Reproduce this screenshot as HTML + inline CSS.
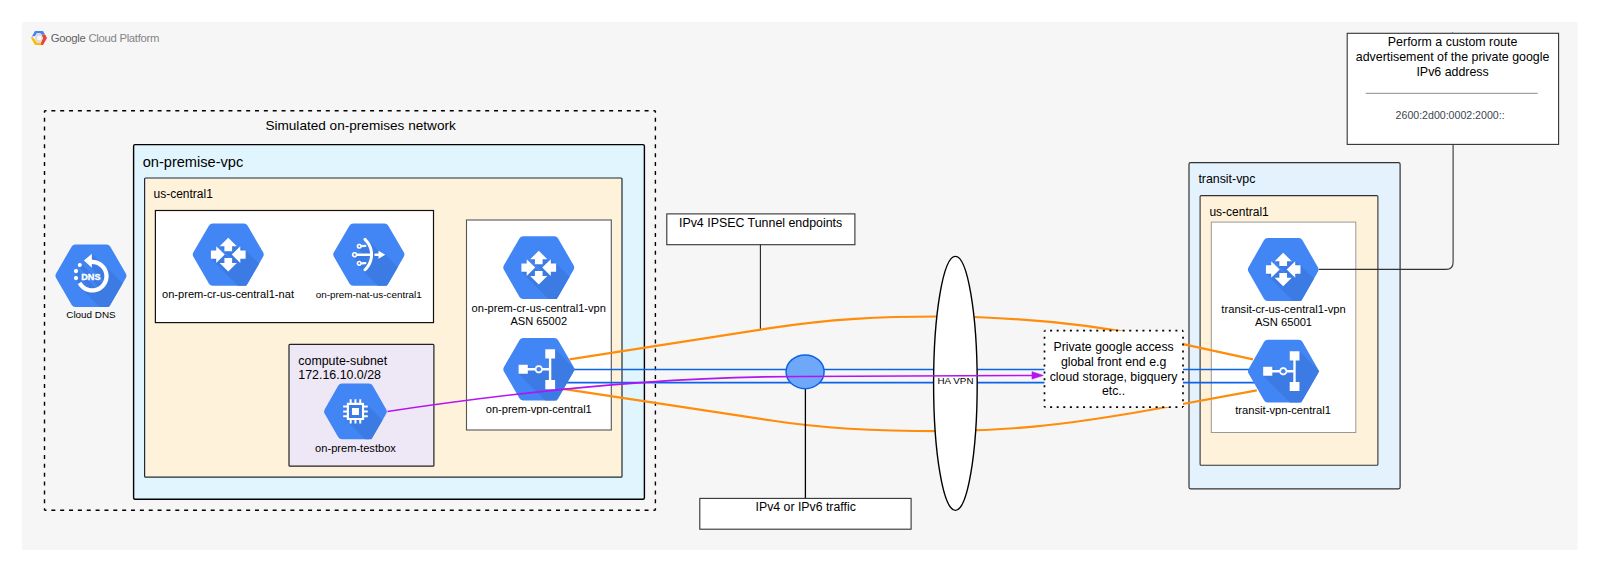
<!DOCTYPE html>
<html><head><meta charset="utf-8"><style>
html,body{margin:0;padding:0;background:#fff;}
svg{display:block;}
text{font-family:"Liberation Sans", sans-serif;}
</style></head><body>
<svg width="1600" height="573" viewBox="0 0 1600 573">
<rect x="0" y="0" width="1600" height="573" fill="#ffffff"/>
<rect x="22" y="22" width="1555.5" height="528" fill="#f6f6f6"/>
<path d="M31,38 L35,31 L43,31 L45,34.5 L41.5,34.5 L40,33 L37,33 L35.3,36 L31.8,36.6 Z" fill="#4285f4"/>
<path d="M43,31 L47,38 L43,45 L39.5,45 L41.5,41.5 L43,38 L41.5,34.5 L45,34.5 Z" fill="#ea4335"/>
<path d="M31,38 L35,45 L41,45 L41.5,41.5 L40,43 L37,43 L35.3,40 L31.8,36.6 Z" fill="#fbbc05"/>
<path d="M35.3,36 L37,33 L40,33 L41.5,35.5 L43,38 L41.5,41 L40,43 L37,43 L35.3,40 Z" fill="#dcdcdc"/>
<circle cx="39.2" cy="38" r="2.3" fill="#f6f6f6"/>
<text x="50.8" y="41.8" font-size="11.3" letter-spacing="-0.28"><tspan fill="#636363">Google </tspan><tspan fill="#858585">Cloud Platform</tspan></text>
<line x1="44.5" y1="110.8" x2="655.4" y2="110.8" stroke="#000" stroke-width="1.4" stroke-dasharray="4 4.854" stroke-dashoffset="2.0"/><line x1="655.4" y1="110.8" x2="655.4" y2="510.2" stroke="#000" stroke-width="1.4" stroke-dasharray="4 4.876" stroke-dashoffset="2.0"/><line x1="655.4" y1="510.2" x2="44.5" y2="510.2" stroke="#000" stroke-width="1.4" stroke-dasharray="4 4.854" stroke-dashoffset="2.0"/><line x1="44.5" y1="510.2" x2="44.5" y2="110.8" stroke="#000" stroke-width="1.4" stroke-dasharray="4 4.876" stroke-dashoffset="2.0"/>
<text x="265.4" y="130.2" font-size="13.6" text-anchor="start" fill="#000" font-weight="normal" >Simulated on-premises network</text>
<rect x="133.6" y="144.6" width="510.8" height="354.6" rx="1.5" fill="#e1f5fe" stroke="#000" stroke-width="1.4"/>
<text x="142.7" y="166.8" font-size="14.6" text-anchor="start" fill="#000" font-weight="normal" >on-premise-vpc</text>
<rect x="144.6" y="178" width="477.4" height="299.2" rx="1" fill="#fff2db" stroke="#1f2a36" stroke-width="1.2"/>
<text x="153.5" y="198.1" font-size="12.0" text-anchor="start" fill="#000" font-weight="normal" >us-central1</text>
<rect x="155.4" y="210.5" width="278.1" height="112.1" fill="#fff" stroke="#111" stroke-width="1.2"/>
<rect x="289" y="344.3" width="144.9" height="121.9" rx="1" fill="#ede7f6" stroke="#222" stroke-width="1.2"/>
<text x="298.3" y="364.8" font-size="12.4" text-anchor="start" fill="#000" font-weight="normal" >compute-subnet</text>
<text x="298.3" y="379.0" font-size="12.4" text-anchor="start" fill="#000" font-weight="normal" >172.16.10.0/28</text>
<rect x="466.5" y="220" width="144.8" height="210" fill="#fff" stroke="#555" stroke-width="1.1"/>
<rect x="1189" y="162.7" width="211.1" height="326.1" rx="1.5" fill="#e3f2fd" stroke="#333" stroke-width="1.2"/>
<text x="1198.4" y="183" font-size="12.36" text-anchor="start" fill="#000" font-weight="normal" >transit-vpc</text>
<rect x="1200.1" y="195.6" width="177.8" height="269.7" rx="1" fill="#fff2db" stroke="#333" stroke-width="1.1"/>
<text x="1209.4" y="216" font-size="12.0" text-anchor="start" fill="#000" font-weight="normal" >us-central1</text>
<rect x="1211.3" y="222.1" width="144.5" height="210.4" fill="#fff" stroke="#999" stroke-width="1"/>
<rect x="1347.2" y="33.3" width="211.4" height="111.1" fill="#fff" stroke="#333" stroke-width="1.1"/>
<text x="1452.6" y="46.2" font-size="12.4" text-anchor="middle" fill="#000" font-weight="normal" >Perform a custom route</text>
<text x="1452.6" y="61" font-size="12.4" text-anchor="middle" fill="#000" font-weight="normal" >advertisement of the private google</text>
<text x="1452.6" y="75.8" font-size="12.4" text-anchor="middle" fill="#000" font-weight="normal" >IPv6 address</text>
<line x1="1365.7" y1="93.3" x2="1537.7" y2="93.3" stroke="#8a8a8a" stroke-width="1"/>
<text x="1450.1" y="119.3" font-size="10.6" text-anchor="middle" fill="#3c4650" font-weight="normal" >2600:2d00:0002:2000::</text>
<rect x="666.8" y="213.9" width="188.1" height="30.8" fill="#fff" stroke="#333" stroke-width="1.1"/>
<text x="760.6" y="227.4" font-size="12.4" text-anchor="middle" fill="#000" font-weight="normal" >IPv4 IPSEC Tunnel endpoints</text>
<line x1="760.4" y1="244.7" x2="760.4" y2="329.6" stroke="#222" stroke-width="1.1"/>
<g transform="translate(90.95,275.65) scale(1.0000)"><path d="M-34.85,2.25 Q-36.15,0.00 -34.85,-2.25 L-19.38,-29.00 Q-18.07,-31.25 -15.47,-31.25 L15.47,-31.25 Q18.07,-31.25 19.38,-29.00 L34.85,-2.25 Q36.15,0.00 34.85,2.25 L19.38,29.00 Q18.07,31.25 15.47,31.25 L-15.47,31.25 Q-18.07,31.25 -19.38,29.00 Z" fill="#4285f4"/><path d="M-12.92,-11.60 L-12.92,-11.60 L-12.92,-11.60 L-12.92,-11.60 L-13.01,-11.42 L-13.01,-11.42 L-13.01,-11.42 L-13.07,-11.23 L-13.07,-11.23 L-13.07,-11.23 L-13.07,-11.23 L-13.07,-11.23 L-13.07,-11.23 L-13.07,-11.23 L-13.12,-11.04 L-13.12,-11.04 L-13.12,-11.04 L-13.12,-11.04 L-13.15,-10.85 L-13.15,-10.85 L-13.15,-10.85 L-13.15,-10.85 L-13.16,-10.65 L-13.16,-10.65 L-13.16,-10.65 L-13.15,-10.45 L-13.15,-10.45 L-13.15,-10.45 L-13.15,-10.45 L-13.12,-10.26 L-13.12,-10.26 L-13.12,-10.26 L-13.12,-10.26 L-13.07,-10.07 L-13.07,-10.07 L-13.07,-10.07 L-13.07,-10.07 L-13.07,-10.07 L-13.07,-10.07 L-13.07,-10.07 L-13.01,-9.88 L-13.01,-9.88 L-13.01,-9.88 L-12.92,-9.70 L-12.92,-9.70 L-12.92,-9.70 L-12.92,-9.70 L-12.82,-9.53 L-12.82,-9.53 L-12.82,-9.53 L-12.82,-9.53 L-12.70,-9.38 L-12.70,-9.38 L-12.70,-9.38 L-12.70,-9.38 L-12.70,-9.37 L-12.70,-9.37 L-12.70,-9.37 L-12.57,-9.23 L-12.57,-9.23 L7.53,10.88 L7.29,11.02 L6.93,11.22 L6.55,11.42 L6.17,11.59 L5.78,11.76 L5.38,11.91 L4.99,12.05 L4.71,12.13 L-13.46,-6.04 L-13.46,-6.04 L-13.61,-6.18 L-13.61,-6.18 L-13.61,-6.18 L-13.61,-6.18 L-13.78,-6.30 L-13.78,-6.30 L-13.78,-6.30 L-13.78,-6.30 L-13.95,-6.41 L-13.95,-6.41 L-13.96,-6.41 L-13.96,-6.41 L-14.14,-6.50 L-14.14,-6.50 L-14.14,-6.50 L-14.14,-6.50 L-14.34,-6.57 L-14.34,-6.57 L-14.34,-6.57 L-14.34,-6.57 L-14.54,-6.62 L-14.54,-6.62 L-14.54,-6.62 L-14.54,-6.62 L-14.74,-6.65 L-14.74,-6.65 L-14.74,-6.65 L-14.74,-6.65 L-14.95,-6.66 L-14.95,-6.66 L-14.95,-6.66 L-14.95,-6.66 L-15.16,-6.65 L-15.16,-6.65 L-15.16,-6.65 L-15.36,-6.62 L-15.36,-6.62 L-15.36,-6.62 L-15.56,-6.57 L-15.56,-6.57 L-15.56,-6.57 L-15.56,-6.57 L-15.56,-6.57 L-15.56,-6.57 L-15.56,-6.57 L-15.76,-6.50 L-15.76,-6.50 L-15.76,-6.50 L-15.76,-6.50 L-15.94,-6.41 L-15.94,-6.41 L-15.95,-6.41 L-16.12,-6.30 L-16.12,-6.30 L-16.12,-6.30 L-16.12,-6.30 L-16.29,-6.18 L-16.29,-6.18 L-16.29,-6.18 L-16.44,-6.04 L-16.44,-6.04 L-16.44,-6.04 L-16.44,-6.04 L-16.58,-5.89 L-16.58,-5.89 L-16.58,-5.89 L-16.58,-5.89 L-16.70,-5.72 L-16.70,-5.72 L-16.70,-5.72 L-16.70,-5.72 L-16.81,-5.55 L-16.81,-5.54 L-16.81,-5.54 L-16.81,-5.54 L-16.90,-5.36 L-16.90,-5.36 L-16.90,-5.36 L-16.90,-5.36 L-16.97,-5.16 L-16.97,-5.16 L-16.97,-5.16 L-16.97,-5.16 L-17.02,-4.96 L-17.02,-4.96 L-17.02,-4.96 L-17.02,-4.96 L-17.05,-4.76 L-17.05,-4.76 L-17.05,-4.76 L-17.05,-4.76 L-17.06,-4.55 L-17.06,-4.55 L-17.06,-4.55 L-17.06,-4.55 L-17.05,-4.34 L-17.05,-4.34 L-17.05,-4.34 L-17.05,-4.34 L-17.02,-4.14 L-17.02,-4.14 L-17.02,-4.14 L-17.02,-4.14 L-16.97,-3.94 L-16.97,-3.94 L-16.97,-3.94 L-16.97,-3.94 L-16.97,-3.94 L-16.97,-3.94 L-16.97,-3.94 L-16.90,-3.74 L-16.90,-3.74 L-16.90,-3.74 L-16.81,-3.56 L-16.81,-3.56 L-16.81,-3.55 L-16.81,-3.55 L-16.70,-3.38 L-16.70,-3.38 L-16.70,-3.38 L-16.70,-3.38 L-16.70,-3.38 L-16.70,-3.38 L-16.70,-3.38 L-16.58,-3.21 L-16.58,-3.21 L-16.58,-3.21 L-16.44,-3.06 L-16.44,-3.06 L-0.95,12.44 L-1.26,12.38 L-1.67,12.28 L-2.08,12.17 L-2.32,12.10 L-13.46,0.96 L-13.46,0.96 L-13.61,0.82 L-13.61,0.82 L-13.61,0.82 L-13.61,0.82 L-13.78,0.70 L-13.78,0.70 L-13.78,0.70 L-13.78,0.70 L-13.95,0.59 L-13.95,0.59 L-13.96,0.59 L-13.96,0.59 L-14.14,0.50 L-14.14,0.50 L-14.14,0.50 L-14.34,0.43 L-14.34,0.43 L-14.34,0.43 L-14.34,0.43 L-14.34,0.43 L-14.34,0.43 L-14.34,0.43 L-14.54,0.38 L-14.54,0.38 L-14.54,0.38 L-14.54,0.38 L-14.74,0.35 L-14.74,0.35 L-14.74,0.35 L-14.74,0.35 L-14.95,0.34 L-14.95,0.34 L-14.95,0.34 L-14.95,0.34 L-15.16,0.35 L-15.16,0.35 L-15.16,0.35 L-15.36,0.38 L-15.36,0.38 L-15.36,0.38 L-15.36,0.38 L-15.56,0.43 L-15.56,0.43 L-15.56,0.43 L-15.56,0.43 L-15.56,0.43 L-15.56,0.43 L-15.56,0.43 L-15.76,0.50 L-15.76,0.50 L-15.76,0.50 L-15.76,0.50 L-15.94,0.59 L-15.94,0.59 L-15.95,0.59 L-16.12,0.70 L-16.12,0.70 L-16.12,0.70 L-16.12,0.70 L-16.29,0.82 L-16.29,0.82 L-16.29,0.82 L-16.44,0.96 L-16.44,0.96 L-16.44,0.96 L-16.44,0.96 L-16.58,1.11 L-16.58,1.11 L-16.58,1.11 L-16.58,1.11 L-16.70,1.28 L-16.70,1.28 L-16.70,1.28 L-16.70,1.28 L-16.81,1.45 L-16.81,1.46 L-16.81,1.46 L-16.81,1.46 L-16.90,1.64 L-16.90,1.64 L-16.90,1.64 L-16.90,1.64 L-16.97,1.84 L-16.97,1.84 L-16.97,1.84 L-16.97,1.84 L-17.02,2.04 L-17.02,2.04 L-17.02,2.04 L-17.02,2.04 L-17.05,2.24 L-17.05,2.24 L-17.05,2.24 L-17.05,2.24 L-17.06,2.45 L-17.06,2.45 L-17.06,2.45 L-17.06,2.45 L-17.05,2.66 L-17.05,2.66 L-17.05,2.66 L-17.05,2.66 L-17.02,2.86 L-17.02,2.86 L-17.02,2.86 L-17.02,2.86 L-16.97,3.06 L-16.97,3.06 L-16.97,3.06 L-16.97,3.06 L-16.97,3.06 L-16.97,3.06 L-16.97,3.06 L-16.90,3.26 L-16.90,3.26 L-16.90,3.26 L-16.81,3.44 L-16.81,3.44 L-16.81,3.45 L-16.81,3.45 L-16.70,3.62 L-16.70,3.62 L-16.70,3.62 L-16.70,3.62 L-16.70,3.62 L-16.70,3.62 L-16.70,3.62 L-16.58,3.79 L-16.58,3.79 L-16.58,3.79 L-16.44,3.94 L-16.44,3.94 L-12.51,7.88 L-13.22,8.27 L-13.22,8.27 L-13.22,8.27 L-13.22,8.27 L-13.22,8.27 L-13.22,8.27 L-13.22,8.27 L-13.22,8.27 L-13.22,8.27 L-13.22,8.28 L-13.22,8.28 L-13.22,8.28 L-13.22,8.28 L-13.22,8.28 L-13.22,8.28 L-13.22,8.28 L-13.22,8.28 L-13.22,8.28 L-13.22,8.28 L-13.22,8.28 L-13.22,8.28 L-13.22,8.28 L-13.22,8.28 L-13.22,8.28 L-13.22,8.28 L-13.22,8.28 L-13.22,8.28 L-13.22,8.28 L-13.22,8.28 L-13.22,8.28 L-13.22,8.28 L-13.22,8.28 L-13.22,8.28 L-13.22,8.28 L-13.22,8.28 L-13.22,8.28 L-13.22,8.28 L-13.22,8.28 L-13.22,8.28 L-13.22,8.28 L-13.22,8.28 L-13.22,8.28 L-13.22,8.28 L-13.22,8.28 L-13.22,8.28 L-13.22,8.28 L-13.22,8.28 L-13.22,8.28 L-13.22,8.28 L-13.22,8.28 L-13.22,8.28 L-13.22,8.28 L-13.22,8.28 L-13.22,8.29 L-13.22,8.29 L-13.22,8.29 L-13.22,8.29 L-13.22,8.29 L-13.22,8.29 L-13.22,8.29 L-13.22,8.29 L-13.22,8.29 L-13.22,8.29 L-13.22,8.29 L-12.98,8.72 L-12.98,8.72 L-12.98,8.72 L-12.94,8.79 L-12.94,8.79 L-12.94,8.79 L-12.69,9.21 L-12.69,9.21 L-12.69,9.21 L-12.65,9.28 L-12.65,9.28 L-12.65,9.28 L-12.38,9.69 L-12.38,9.69 L-12.38,9.70 L-12.33,9.76 L-12.33,9.76 L-12.33,9.76 L-12.05,10.16 L-12.05,10.16 L-12.05,10.17 L-12.00,10.23 L-12.00,10.23 L-12.00,10.23 L-11.70,10.62 L-11.70,10.62 L-11.70,10.62 L-11.66,10.68 L-11.66,10.68 L-11.66,10.68 L-11.34,11.07 L-11.34,11.07 L-11.34,11.07 L-11.30,11.13 L-11.30,11.13 L-11.30,11.13 L-10.97,11.50 L-10.97,11.50 L-10.97,11.50 L-10.92,11.56 L-10.92,11.56 L-10.92,11.56 L-10.58,11.92 L-10.58,11.92 L-10.58,11.92 L-10.53,11.98 L-10.53,11.98 L-10.18,12.33 L8.75,31.25 L18.07,31.25 L31.66,7.76 L13.03,-10.88 L13.03,-10.88 L12.68,-11.23 L12.68,-11.23 L12.62,-11.28 L12.62,-11.28 L12.62,-11.28 L12.26,-11.62 L12.26,-11.62 L12.26,-11.62 L12.20,-11.67 L12.20,-11.67 L12.20,-11.67 L11.83,-12.00 L11.83,-12.00 L11.83,-12.00 L11.77,-12.04 L11.77,-12.04 L11.77,-12.04 L11.38,-12.36 L11.38,-12.36 L11.38,-12.36 L11.32,-12.40 L11.32,-12.40 L11.32,-12.40 L10.93,-12.70 L10.93,-12.70 L10.93,-12.70 L10.87,-12.75 L10.86,-12.75 L10.86,-12.75 L10.46,-13.03 L10.46,-13.03 L10.46,-13.03 L10.40,-13.08 L10.39,-13.08 L10.39,-13.08 L9.98,-13.35 L9.98,-13.35 L9.98,-13.35 L9.91,-13.39 L9.91,-13.39 L9.91,-13.39 L9.49,-13.64 L9.49,-13.64 L9.49,-13.64 L9.42,-13.68 L9.42,-13.68 L9.42,-13.68 L8.99,-13.92 L8.99,-13.92 L8.99,-13.92 L8.92,-13.96 L8.92,-13.96 L8.92,-13.96 L8.79,-14.02 L0.91,-21.91 L0.91,-21.91 L0.91,-21.91 L0.91,-21.91 L0.91,-21.91 L0.91,-21.91 L0.91,-21.91 L0.91,-21.91 L0.91,-21.91 L0.90,-21.91 L0.90,-21.91 L0.90,-21.91 L0.90,-21.91 L0.90,-21.91 L0.90,-21.91 L0.90,-21.91 L0.90,-21.91 L0.90,-21.91 L0.90,-21.91 L0.90,-21.91 L0.90,-21.91 L0.90,-21.91 L0.90,-21.91 L0.90,-21.91 L0.90,-21.91 L0.90,-21.91 L0.90,-21.91 L0.90,-21.91 L0.90,-21.91 L0.90,-21.91 L0.90,-21.91 L0.90,-21.91 L0.90,-21.91 L0.90,-21.91 L0.90,-21.91 L0.90,-21.91 L0.90,-21.91 L0.90,-21.91 L0.90,-21.91 L0.90,-21.91 L0.90,-21.91 L0.90,-21.91 L0.90,-21.91 L0.90,-21.91 L0.90,-21.91 L0.90,-21.91 L0.90,-21.91 L0.90,-21.91 L0.90,-21.91 L0.90,-21.91 L0.90,-21.91 L0.90,-21.91 L0.89,-21.91 L0.89,-21.91 L0.89,-21.91 L0.89,-21.91 L0.89,-21.91 L0.89,-21.91 L0.89,-21.91 L0.89,-21.91 L-7.06,-15.16 L-7.06,-15.16 L-7.06,-15.16 L-7.06,-15.16 L-7.06,-15.16 L-7.06,-15.16 L-7.06,-15.16 L-7.06,-15.16 L-7.06,-15.16 L-7.06,-15.16 L-7.06,-15.16 L-7.06,-15.16 L-7.06,-15.16 L-7.06,-15.16 L-7.06,-15.15 L-7.06,-15.15 L-7.06,-15.15 L-7.06,-15.15 L-7.06,-15.15 L-7.06,-15.15 L-7.06,-15.15 L-7.06,-15.15 L-7.06,-15.15 L-7.06,-15.15 L-7.06,-15.15 L-7.06,-15.15 L-7.06,-15.15 L-7.06,-15.15 L-7.06,-15.15 L-7.06,-15.15 L-7.06,-15.15 L-7.06,-15.15 L-7.06,-15.15 L-7.06,-15.15 L-7.06,-15.15 L-7.06,-15.15 L-7.06,-15.15 L-7.06,-15.15 L-7.06,-15.15 L-7.06,-15.15 L-7.06,-15.15 L-7.06,-15.15 L-7.06,-15.15 L-7.06,-15.15 L-7.06,-15.15 L-7.06,-15.15 L-7.06,-15.15 L-7.06,-15.15 L-7.06,-15.15 L-7.06,-15.15 L-7.06,-15.15 L-7.06,-15.15 L-7.06,-15.15 L-7.06,-15.15 L-7.06,-15.15 L-7.06,-15.15 L-7.06,-15.15 L-7.06,-15.14 L-7.06,-15.14 L-7.06,-15.14 L-7.06,-15.14 L-7.06,-15.14 L-7.06,-15.14 L-7.06,-15.14 L-7.06,-15.14 L-7.06,-15.14 L12.65,4.57 L12.61,4.68 L12.46,5.08 L12.29,5.47 L12.12,5.85 L11.92,6.23 L11.72,6.59 L11.50,6.96 L11.27,7.31 L11.03,7.66 L10.78,7.99 L10.58,8.24 L-9.73,-12.07 L-9.73,-12.07 L-9.87,-12.20 L-9.87,-12.20 L-9.87,-12.20 L-9.88,-12.20 L-9.88,-12.20 L-9.88,-12.20 L-9.88,-12.20 L-10.03,-12.32 L-10.03,-12.32 L-10.03,-12.32 L-10.03,-12.32 L-10.20,-12.42 L-10.20,-12.42 L-10.20,-12.42 L-10.20,-12.42 L-10.38,-12.51 L-10.38,-12.51 L-10.38,-12.51 L-10.57,-12.57 L-10.57,-12.57 L-10.57,-12.57 L-10.57,-12.57 L-10.57,-12.57 L-10.57,-12.57 L-10.57,-12.57 L-10.76,-12.62 L-10.76,-12.62 L-10.76,-12.62 L-10.76,-12.62 L-10.95,-12.65 L-10.95,-12.65 L-10.95,-12.65 L-10.95,-12.65 L-11.15,-12.66 L-11.15,-12.66 L-11.15,-12.66 L-11.35,-12.65 L-11.35,-12.65 L-11.35,-12.65 L-11.35,-12.65 L-11.54,-12.62 L-11.54,-12.62 L-11.54,-12.62 L-11.54,-12.62 L-11.73,-12.57 L-11.73,-12.57 L-11.73,-12.57 L-11.73,-12.57 L-11.73,-12.57 L-11.73,-12.57 L-11.73,-12.57 L-11.92,-12.51 L-11.92,-12.51 L-11.92,-12.51 L-12.10,-12.42 L-12.10,-12.42 L-12.10,-12.42 L-12.10,-12.42 L-12.27,-12.32 L-12.27,-12.32 L-12.27,-12.32 L-12.27,-12.32 L-12.42,-12.20 L-12.42,-12.20 L-12.42,-12.20 L-12.43,-12.20 L-12.43,-12.20 L-12.43,-12.20 L-12.43,-12.20 L-12.57,-12.07 L-12.57,-12.07 L-12.57,-12.07 L-12.70,-11.93 L-12.70,-11.93 L-12.70,-11.93 L-12.70,-11.93 L-12.70,-11.92 L-12.70,-11.92 L-12.70,-11.92 L-12.82,-11.77 L-12.82,-11.77 L-12.82,-11.77 L-12.82,-11.77 L-12.92,-11.60Z" fill="#3c7be3"/><path d="M0.90,-11.54 L1.25,-11.55 L1.67,-11.54 L2.09,-11.52 L2.51,-11.48 L2.93,-11.43 L3.35,-11.37 L3.77,-11.29 L4.18,-11.19 L4.59,-11.08 L4.99,-10.96 L5.39,-10.82 L5.78,-10.67 L6.17,-10.50 L6.55,-10.33 L6.93,-10.13 L7.30,-9.93 L7.66,-9.71 L8.02,-9.48 L8.36,-9.24 L8.70,-8.98 L9.03,-8.72 L9.35,-8.44 L9.66,-8.15 L9.95,-7.86 L10.24,-7.55 L10.52,-7.23 L10.78,-6.90 L11.04,-6.56 L11.28,-6.22 L11.51,-5.86 L11.73,-5.50 L11.93,-5.13 L12.13,-4.75 L12.30,-4.37 L12.47,-3.98 L12.62,-3.59 L12.76,-3.19 L12.88,-2.79 L12.99,-2.38 L13.09,-1.97 L13.17,-1.55 L13.23,-1.13 L13.28,-0.71 L13.32,-0.29 L13.34,0.13 L13.35,0.55 L13.34,0.97 L13.32,1.39 L13.28,1.81 L13.23,2.23 L13.17,2.65 L13.09,3.07 L12.99,3.48 L12.88,3.89 L12.76,4.29 L12.62,4.69 L12.47,5.08 L12.30,5.47 L12.13,5.85 L11.93,6.23 L11.73,6.60 L11.51,6.96 L11.28,7.32 L11.04,7.66 L10.78,8.00 L10.52,8.33 L10.24,8.65 L9.95,8.96 L9.66,9.25 L9.35,9.54 L9.03,9.82 L8.70,10.08 L8.36,10.34 L8.02,10.58 L7.66,10.81 L7.30,11.03 L6.93,11.23 L6.55,11.43 L6.17,11.60 L5.78,11.77 L5.39,11.92 L4.99,12.06 L4.59,12.18 L4.18,12.29 L3.77,12.39 L3.35,12.47 L2.93,12.53 L2.51,12.58 L2.09,12.62 L1.67,12.64 L1.25,12.65 L0.83,12.64 L0.41,12.62 L-0.01,12.58 L-0.43,12.53 L-0.85,12.47 L-1.27,12.39 L-1.68,12.29 L-2.09,12.18 L-2.49,12.06 L-2.89,11.92 L-3.28,11.77 L-3.67,11.60 L-4.05,11.43 L-4.43,11.23 L-4.80,11.03 L-5.16,10.81 L-5.52,10.58 L-5.86,10.34 L-6.20,10.08 L-6.53,9.82 L-6.85,9.54 L-7.16,9.25 L-7.45,8.96 L-7.74,8.65 L-8.02,8.33 L-8.28,8.00 L-8.54,7.66 L-8.78,7.32 L-9.01,6.96 L-9.23,6.60 L-9.45,6.20 L-13.21,8.28 L-12.97,8.72 L-12.93,8.78 L-12.68,9.21 L-12.64,9.27 L-12.37,9.69 L-12.32,9.75 L-12.04,10.16 L-12.00,10.22 L-11.70,10.62 L-11.65,10.68 L-11.34,11.06 L-11.29,11.12 L-10.96,11.50 L-10.91,11.55 L-10.57,11.92 L-10.52,11.97 L-10.17,12.32 L-10.12,12.37 L-9.75,12.71 L-9.70,12.76 L-9.32,13.09 L-9.26,13.14 L-8.88,13.45 L-8.82,13.50 L-8.42,13.80 L-8.36,13.84 L-7.95,14.12 L-7.89,14.17 L-7.47,14.44 L-7.41,14.48 L-6.98,14.73 L-6.92,14.77 L-6.48,15.01 L-6.42,15.05 L-5.97,15.27 L-5.91,15.31 L-5.45,15.52 L-5.39,15.55 L-4.93,15.74 L-4.86,15.77 L-4.39,15.95 L-4.32,15.97 L-3.85,16.14 L-3.78,16.16 L-3.31,16.30 L-3.23,16.32 L-2.75,16.45 L-2.68,16.47 L-2.20,16.58 L-2.12,16.60 L-1.63,16.69 L-1.56,16.71 L-1.07,16.78 L-1.00,16.80 L-0.50,16.86 L-0.43,16.86 L0.07,16.91 L0.14,16.91 L0.64,16.94 L0.72,16.94 L1.21,16.95 L1.29,16.95 L1.78,16.94 L1.86,16.94 L2.36,16.91 L2.43,16.91 L2.93,16.86 L3.00,16.86 L3.50,16.80 L3.57,16.78 L4.06,16.71 L4.13,16.69 L4.62,16.60 L4.70,16.58 L5.18,16.47 L5.25,16.45 L5.73,16.32 L5.81,16.30 L6.28,16.16 L6.35,16.14 L6.82,15.97 L6.89,15.95 L7.36,15.77 L7.43,15.74 L7.89,15.55 L7.95,15.52 L8.41,15.31 L8.47,15.27 L8.92,15.05 L8.98,15.01 L9.42,14.77 L9.48,14.73 L9.91,14.48 L9.97,14.44 L10.39,14.17 L10.45,14.12 L10.86,13.84 L10.92,13.80 L11.32,13.50 L11.38,13.45 L11.76,13.14 L11.82,13.09 L12.20,12.76 L12.25,12.71 L12.62,12.37 L12.67,12.32 L13.02,11.97 L13.07,11.92 L13.41,11.55 L13.46,11.50 L13.79,11.12 L13.84,11.06 L14.15,10.68 L14.20,10.62 L14.50,10.22 L14.54,10.16 L14.82,9.75 L14.87,9.69 L15.14,9.27 L15.18,9.21 L15.43,8.78 L15.47,8.72 L15.71,8.28 L15.75,8.22 L15.97,7.77 L16.01,7.71 L16.22,7.25 L16.25,7.19 L16.44,6.73 L16.47,6.66 L16.65,6.19 L16.67,6.12 L16.84,5.65 L16.86,5.58 L17.00,5.11 L17.02,5.03 L17.15,4.55 L17.17,4.48 L17.28,4.00 L17.30,3.92 L17.39,3.43 L17.41,3.36 L17.48,2.87 L17.50,2.80 L17.56,2.30 L17.56,2.23 L17.61,1.73 L17.61,1.66 L17.64,1.16 L17.64,1.08 L17.65,0.59 L17.65,0.51 L17.64,0.02 L17.64,-0.06 L17.61,-0.56 L17.61,-0.63 L17.56,-1.13 L17.56,-1.20 L17.50,-1.70 L17.48,-1.77 L17.41,-2.26 L17.39,-2.33 L17.30,-2.82 L17.28,-2.90 L17.17,-3.38 L17.15,-3.45 L17.02,-3.93 L17.00,-4.01 L16.86,-4.48 L16.84,-4.55 L16.67,-5.02 L16.65,-5.09 L16.47,-5.56 L16.44,-5.63 L16.25,-6.09 L16.22,-6.15 L16.01,-6.61 L15.97,-6.67 L15.75,-7.12 L15.71,-7.18 L15.47,-7.62 L15.43,-7.68 L15.18,-8.11 L15.14,-8.17 L14.87,-8.59 L14.82,-8.65 L14.54,-9.06 L14.50,-9.12 L14.20,-9.52 L14.15,-9.58 L13.84,-9.96 L13.79,-10.02 L13.46,-10.40 L13.41,-10.45 L13.07,-10.82 L13.02,-10.87 L12.67,-11.22 L12.62,-11.27 L12.25,-11.61 L12.20,-11.66 L11.82,-11.99 L11.76,-12.04 L11.38,-12.35 L11.32,-12.40 L10.92,-12.70 L10.86,-12.74 L10.45,-13.02 L10.39,-13.07 L9.97,-13.34 L9.91,-13.38 L9.48,-13.63 L9.42,-13.67 L8.98,-13.91 L8.92,-13.95 L8.47,-14.17 L8.41,-14.21 L7.95,-14.42 L7.89,-14.45 L7.43,-14.64 L7.36,-14.67 L6.89,-14.85 L6.82,-14.87 L6.35,-15.04 L6.28,-15.06 L5.81,-15.20 L5.73,-15.22 L5.25,-15.35 L5.18,-15.37 L4.70,-15.48 L4.62,-15.50 L4.13,-15.59 L4.06,-15.61 L3.57,-15.68 L3.50,-15.70 L3.00,-15.76 L2.93,-15.76 L2.43,-15.81 L2.36,-15.81 L1.86,-15.84 L1.78,-15.84 L1.29,-15.85 L1.21,-15.85 L0.90,-15.84 L0.90,-21.90 L-7.05,-15.15 L0.90,-8.00 L0.90,-11.54Z M-9.19,-11.04 L-9.24,-11.23 L-9.30,-11.42 L-9.39,-11.59 L-9.49,-11.76 L-9.60,-11.92 L-9.74,-12.06 L-9.88,-12.20 L-10.04,-12.31 L-10.21,-12.41 L-10.38,-12.50 L-10.57,-12.56 L-10.76,-12.61 L-10.95,-12.64 L-11.15,-12.65 L-11.35,-12.64 L-11.54,-12.61 L-11.73,-12.56 L-11.92,-12.50 L-12.09,-12.41 L-12.26,-12.31 L-12.42,-12.20 L-12.56,-12.06 L-12.70,-11.92 L-12.81,-11.76 L-12.91,-11.59 L-13.00,-11.42 L-13.06,-11.23 L-13.11,-11.04 L-13.14,-10.85 L-13.15,-10.65 L-13.14,-10.45 L-13.11,-10.26 L-13.06,-10.07 L-13.00,-9.88 L-12.91,-9.71 L-12.81,-9.54 L-12.70,-9.38 L-12.56,-9.24 L-12.42,-9.10 L-12.26,-8.99 L-12.09,-8.89 L-11.92,-8.80 L-11.73,-8.74 L-11.54,-8.69 L-11.35,-8.66 L-11.15,-8.65 L-10.95,-8.66 L-10.76,-8.69 L-10.57,-8.74 L-10.38,-8.80 L-10.21,-8.89 L-10.04,-8.99 L-9.88,-9.10 L-9.74,-9.24 L-9.60,-9.38 L-9.49,-9.54 L-9.39,-9.71 L-9.30,-9.88 L-9.24,-10.07 L-9.19,-10.26 L-9.16,-10.45 L-9.15,-10.65 L-9.16,-10.85 L-9.19,-11.04Z M-12.89,-4.96 L-12.94,-5.16 L-13.01,-5.35 L-13.10,-5.54 L-13.20,-5.72 L-13.33,-5.88 L-13.47,-6.03 L-13.62,-6.17 L-13.78,-6.30 L-13.96,-6.40 L-14.15,-6.49 L-14.34,-6.56 L-14.54,-6.61 L-14.74,-6.64 L-14.95,-6.65 L-15.16,-6.64 L-15.36,-6.61 L-15.56,-6.56 L-15.75,-6.49 L-15.94,-6.40 L-16.12,-6.30 L-16.28,-6.17 L-16.43,-6.03 L-16.57,-5.88 L-16.70,-5.72 L-16.80,-5.54 L-16.89,-5.35 L-16.96,-5.16 L-17.01,-4.96 L-17.04,-4.76 L-17.05,-4.55 L-17.04,-4.34 L-17.01,-4.14 L-16.96,-3.94 L-16.89,-3.75 L-16.80,-3.56 L-16.70,-3.38 L-16.57,-3.22 L-16.43,-3.07 L-16.28,-2.93 L-16.12,-2.80 L-15.94,-2.70 L-15.75,-2.61 L-15.56,-2.54 L-15.36,-2.49 L-15.16,-2.46 L-14.95,-2.45 L-14.74,-2.46 L-14.54,-2.49 L-14.34,-2.54 L-14.15,-2.61 L-13.96,-2.70 L-13.78,-2.80 L-13.62,-2.93 L-13.47,-3.07 L-13.33,-3.22 L-13.20,-3.38 L-13.10,-3.56 L-13.01,-3.75 L-12.94,-3.94 L-12.89,-4.14 L-12.86,-4.34 L-12.85,-4.55 L-12.86,-4.76 L-12.89,-4.96Z M-12.94,1.84 L-13.01,1.65 L-13.10,1.46 L-13.20,1.28 L-13.33,1.12 L-13.47,0.97 L-13.62,0.83 L-13.78,0.70 L-13.96,0.60 L-14.15,0.51 L-14.34,0.44 L-14.54,0.39 L-14.74,0.36 L-14.95,0.35 L-15.16,0.36 L-15.36,0.39 L-15.56,0.44 L-15.75,0.51 L-15.94,0.60 L-16.12,0.70 L-16.28,0.83 L-16.43,0.97 L-16.57,1.12 L-16.70,1.28 L-16.80,1.46 L-16.89,1.65 L-16.96,1.84 L-17.01,2.04 L-17.04,2.24 L-17.05,2.45 L-17.04,2.66 L-17.01,2.86 L-16.96,3.06 L-16.89,3.25 L-16.80,3.44 L-16.70,3.62 L-16.57,3.78 L-16.43,3.93 L-16.28,4.07 L-16.12,4.20 L-15.94,4.30 L-15.75,4.39 L-15.56,4.46 L-15.36,4.51 L-15.16,4.54 L-14.95,4.55 L-14.74,4.54 L-14.54,4.51 L-14.34,4.46 L-14.15,4.39 L-13.96,4.30 L-13.78,4.20 L-13.62,4.07 L-13.47,3.93 L-13.33,3.78 L-13.20,3.62 L-13.10,3.44 L-13.01,3.25 L-12.94,3.06 L-12.89,2.86 L-12.86,2.66 L-12.85,2.45 L-12.86,2.24 L-12.89,2.04 L-12.94,1.84Z" fill="#fff" fill-rule="evenodd"/><text x="-0.1" y="3.9" text-anchor="middle" font-family='"Liberation Sans", sans-serif' font-weight="bold" font-size="9.1" fill="#fff" stroke="#fff" stroke-width="0.35">DNS</text></g>
<text x="91" y="317.9" font-size="9.9" text-anchor="middle" fill="#000" font-weight="normal" >Cloud DNS</text>
<g transform="translate(228.25,254.60) scale(1.0000)"><path d="M-34.85,2.25 Q-36.15,0.00 -34.85,-2.25 L-19.38,-28.95 Q-18.07,-31.20 -15.47,-31.20 L15.47,-31.20 Q18.07,-31.20 19.38,-28.95 L34.85,-2.25 Q36.15,0.00 34.85,2.25 L19.38,28.95 Q18.07,31.20 15.47,31.20 L-15.47,31.20 Q-18.07,31.20 -19.38,28.95 Z" fill="#4285f4"/><path d="M0.01,-16.91 L0.01,-16.91 L0.00,-16.91 L0.00,-16.91 L0.00,-16.91 L0.00,-16.91 L0.00,-16.91 L0.00,-16.91 L-0.00,-16.91 L-0.00,-16.91 L-0.00,-16.91 L-0.00,-16.91 L-0.00,-16.91 L-0.01,-16.91 L-0.01,-16.91 L-0.01,-16.91 L-8.61,-8.31 L-8.61,-8.31 L-8.61,-8.31 L-8.61,-8.30 L-8.61,-8.30 L-8.61,-8.30 L-8.61,-8.30 L-8.61,-8.30 L-8.61,-8.30 L-8.61,-8.30 L-8.61,-8.30 L-8.61,-8.30 L-8.61,-8.30 L-8.61,-8.30 L-8.61,-8.29 L-8.61,-8.29 L-8.61,-8.29 L-3.86,-3.55 L-3.86,-3.40 L-3.86,-3.40 L-3.86,-3.40 L-3.86,-3.40 L-3.86,-3.40 L-3.86,-3.40 L-3.86,-3.39 L-3.86,-3.39 L-3.86,-3.39 L2.93,3.39 L-0.10,3.39 L-3.49,-0.01 L-3.49,-0.01 L-12.04,-8.41 L-12.04,-8.41 L-12.04,-8.41 L-12.04,-8.41 L-12.04,-8.41 L-12.04,-8.41 L-12.04,-8.41 L-12.04,-8.41 L-12.04,-8.41 L-12.04,-8.41 L-12.05,-8.41 L-12.05,-8.41 L-12.05,-8.41 L-12.05,-8.41 L-12.05,-8.41 L-12.05,-8.41 L-12.05,-8.41 L-12.05,-8.41 L-12.05,-8.41 L-12.05,-8.41 L-12.05,-8.41 L-12.05,-8.41 L-12.05,-8.41 L-12.05,-8.41 L-12.05,-8.41 L-12.05,-8.41 L-12.05,-8.41 L-12.05,-8.41 L-12.05,-8.41 L-12.05,-8.41 L-12.05,-8.41 L-12.05,-8.41 L-12.05,-8.41 L-12.05,-8.41 L-12.05,-8.41 L-12.05,-8.41 L-12.05,-8.41 L-12.05,-8.41 L-12.05,-8.41 L-12.05,-8.41 L-12.05,-8.41 L-12.05,-8.41 L-12.05,-8.41 L-12.05,-8.41 L-12.05,-8.41 L-12.05,-8.41 L-12.05,-8.41 L-12.05,-8.41 L-12.05,-8.41 L-12.05,-8.41 L-12.05,-8.41 L-12.05,-8.41 L-12.05,-8.41 L-12.06,-8.41 L-12.06,-8.41 L-12.06,-8.41 L-12.06,-8.41 L-12.06,-8.41 L-12.06,-8.41 L-12.06,-8.41 L-12.06,-8.41 L-12.06,-8.41 L-12.06,-8.41 L-12.06,-8.41 L-12.06,-8.41 L-12.06,-8.41 L-12.06,-8.41 L-12.06,-8.41 L-12.06,-8.41 L-12.06,-8.41 L-12.06,-8.41 L-12.06,-8.41 L-12.06,-8.41 L-12.06,-8.41 L-12.06,-8.40 L-12.06,-8.40 L-12.06,-8.40 L-12.06,-8.40 L-12.06,-8.40 L-12.06,-8.40 L-12.06,-8.40 L-12.06,-8.40 L-12.06,-8.40 L-12.06,-8.40 L-12.06,-8.40 L-12.06,-8.40 L-12.06,-8.40 L-12.06,-8.40 L-12.06,-8.40 L-12.06,-8.40 L-12.06,-8.40 L-12.06,-8.40 L-12.06,-8.40 L-12.06,-8.40 L-12.06,-8.40 L-12.06,-4.21 L-17.35,-4.21 L-17.35,-4.21 L-17.35,-4.21 L-17.35,-4.21 L-17.35,-4.21 L-17.35,-4.21 L-17.36,-4.21 L-17.36,-4.21 L-17.36,-4.21 L-17.36,-4.21 L-17.36,-4.21 L-17.36,-4.20 L-17.36,-4.20 L-17.36,-4.20 L-17.36,-4.20 L-17.36,-4.20 L-17.36,-4.20 L-17.36,4.20 L-17.36,4.20 L-17.36,4.20 L-17.36,4.20 L-17.36,4.20 L-17.36,4.20 L-17.36,4.21 L-17.36,4.21 L-17.36,4.21 L9.64,31.20 L18.07,31.20 L30.80,9.24 L17.36,-4.21 L17.36,-4.21 L17.36,-4.21 L17.35,-4.21 L17.35,-4.21 L17.35,-4.21 L17.35,-4.21 L17.35,-4.21 L17.35,-4.21 L16.25,-4.21 L12.06,-8.41 L12.06,-8.41 L12.06,-8.41 L12.06,-8.41 L12.06,-8.41 L12.06,-8.41 L12.06,-8.41 L12.06,-8.41 L12.06,-8.41 L12.05,-8.41 L12.05,-8.41 L12.05,-8.41 L12.05,-8.41 L12.05,-8.41 L12.05,-8.41 L12.05,-8.41 L12.05,-8.41 L12.05,-8.41 L12.05,-8.41 L12.05,-8.41 L12.05,-8.41 L12.05,-8.41 L12.05,-8.41 L12.05,-8.41 L12.05,-8.41 L12.05,-8.41 L12.05,-8.41 L12.05,-8.41 L12.05,-8.41 L12.05,-8.41 L12.05,-8.41 L12.05,-8.41 L12.05,-8.41 L12.05,-8.41 L12.05,-8.41 L12.05,-8.41 L12.05,-8.41 L12.05,-8.41 L12.05,-8.41 L12.05,-8.41 L12.05,-8.41 L12.05,-8.41 L12.05,-8.41 L12.05,-8.41 L12.05,-8.41 L12.05,-8.41 L12.05,-8.41 L12.05,-8.41 L12.05,-8.41 L12.05,-8.41 L12.05,-8.41 L12.05,-8.41 L12.04,-8.41 L12.04,-8.41 L12.04,-8.41 L12.04,-8.41 L12.04,-8.41 L12.04,-8.41 L12.04,-8.41 L12.04,-8.41 L12.04,-8.41 L12.04,-8.41 L10.26,-6.65 L8.61,-8.31 L8.61,-8.31 L0.01,-16.91 L0.01,-16.91Z" fill="#3c7be3"/><path d="M-8.60,-8.30 L-3.85,-8.30 L-3.85,-3.40 L3.85,-3.40 L3.85,-8.30 L8.60,-8.30 L0.00,-16.90 L-8.60,-8.30Z M-12.05,4.20 L-12.05,8.40 L-3.50,0.00 L-12.05,-8.40 L-12.05,-4.20 L-17.35,-4.20 L-17.35,4.20 L-12.05,4.20Z M12.05,4.20 L17.35,4.20 L17.35,-4.20 L12.05,-4.20 L12.05,-8.40 L3.50,0.00 L12.05,8.40 L12.05,4.20Z M-3.85,8.30 L-8.60,8.30 L0.00,16.90 L8.60,8.30 L3.85,8.30 L3.85,3.40 L-3.85,3.40 L-3.85,8.30Z" fill="#fff" fill-rule="evenodd"/></g>
<text x="228" y="297.9" font-size="11.1" text-anchor="middle" fill="#000" font-weight="normal" >on-prem-cr-us-central1-nat</text>
<g transform="translate(368.85,254.55) scale(1.0028)"><path d="M-34.84,2.24 Q-36.15,0.00 -34.84,-2.24 L-19.38,-28.82 Q-18.07,-31.06 -15.48,-31.06 L15.48,-31.06 Q18.07,-31.06 19.38,-28.82 L34.84,-2.24 Q36.15,0.00 34.84,2.24 L19.38,28.82 Q18.07,31.06 15.48,31.06 L-15.48,31.06 Q-18.07,31.06 -19.38,28.82 Z" fill="#4285f4"/><path d="M-7.88,-10.26 L-7.88,-10.26 L-7.88,-10.26 L-8.01,-10.37 L-8.01,-10.37 L-8.01,-10.37 L-8.15,-10.47 L-8.15,-10.47 L-8.15,-10.47 L-8.29,-10.56 L-8.30,-10.56 L-8.30,-10.56 L-8.45,-10.64 L-8.45,-10.64 L-8.45,-10.64 L-8.60,-10.71 L-8.60,-10.71 L-8.60,-10.71 L-8.76,-10.77 L-8.76,-10.77 L-8.76,-10.77 L-8.92,-10.82 L-8.92,-10.82 L-8.92,-10.82 L-9.09,-10.86 L-9.09,-10.86 L-9.09,-10.86 L-9.26,-10.89 L-9.26,-10.89 L-9.26,-10.89 L-9.43,-10.90 L-9.43,-10.90 L-9.43,-10.90 L-9.60,-10.91 L-9.60,-10.91 L-9.60,-10.91 L-9.77,-10.90 L-9.77,-10.90 L-9.77,-10.90 L-9.94,-10.89 L-9.94,-10.89 L-9.94,-10.89 L-10.11,-10.86 L-10.11,-10.86 L-10.11,-10.86 L-10.28,-10.82 L-10.28,-10.82 L-10.28,-10.82 L-10.44,-10.77 L-10.44,-10.77 L-10.44,-10.77 L-10.60,-10.71 L-10.60,-10.71 L-10.60,-10.71 L-10.75,-10.64 L-10.75,-10.64 L-10.75,-10.64 L-10.90,-10.56 L-10.90,-10.56 L-10.91,-10.56 L-11.05,-10.47 L-11.05,-10.47 L-11.05,-10.47 L-11.19,-10.37 L-11.19,-10.37 L-11.19,-10.37 L-11.32,-10.26 L-11.32,-10.26 L-11.32,-10.26 L-11.45,-10.15 L-11.45,-10.15 L-11.45,-10.15 L-11.56,-10.02 L-11.56,-10.02 L-11.56,-10.02 L-11.67,-9.89 L-11.67,-9.89 L-11.67,-9.89 L-11.77,-9.75 L-11.77,-9.75 L-11.77,-9.75 L-11.86,-9.61 L-11.86,-9.60 L-11.86,-9.60 L-11.94,-9.45 L-11.94,-9.45 L-11.94,-9.45 L-12.01,-9.30 L-12.01,-9.30 L-12.01,-9.30 L-12.07,-9.14 L-12.07,-9.14 L-12.07,-9.14 L-12.12,-8.98 L-12.12,-8.98 L-12.12,-8.98 L-12.16,-8.81 L-12.16,-8.81 L-12.16,-8.81 L-12.19,-8.64 L-12.19,-8.64 L-12.19,-8.64 L-12.20,-8.47 L-12.20,-8.47 L-12.20,-8.47 L-12.21,-8.30 L-12.21,-8.30 L-12.21,-8.30 L-12.20,-8.13 L-12.20,-8.13 L-12.20,-8.13 L-12.19,-7.96 L-12.19,-7.96 L-12.19,-7.96 L-12.16,-7.79 L-12.16,-7.79 L-12.16,-7.79 L-12.12,-7.62 L-12.12,-7.62 L-12.12,-7.62 L-12.07,-7.46 L-12.07,-7.46 L-12.07,-7.46 L-12.01,-7.30 L-12.01,-7.30 L-12.01,-7.30 L-11.94,-7.15 L-11.94,-7.15 L-11.94,-7.15 L-11.86,-7.00 L-11.86,-7.00 L-11.86,-6.99 L-11.77,-6.85 L-11.77,-6.85 L-11.77,-6.85 L-11.67,-6.71 L-11.67,-6.71 L-11.67,-6.71 L-11.56,-6.58 L-11.56,-6.58 L-11.56,-6.58 L-11.45,-6.45 L-11.45,-6.45 L-6.00,-1.01 L-11.44,-1.01 L-12.21,-1.79 L-12.21,-1.79 L-12.35,-1.91 L-12.35,-1.91 L-12.35,-1.91 L-12.49,-2.03 L-12.49,-2.03 L-12.49,-2.03 L-12.64,-2.14 L-12.64,-2.14 L-12.64,-2.14 L-12.79,-2.23 L-12.80,-2.23 L-12.80,-2.23 L-12.96,-2.32 L-12.96,-2.32 L-12.96,-2.32 L-13.12,-2.40 L-13.12,-2.40 L-13.12,-2.40 L-13.30,-2.46 L-13.30,-2.46 L-13.30,-2.46 L-13.47,-2.51 L-13.47,-2.51 L-13.47,-2.51 L-13.65,-2.56 L-13.65,-2.56 L-13.65,-2.56 L-13.83,-2.59 L-13.83,-2.59 L-13.83,-2.59 L-14.02,-2.60 L-14.02,-2.60 L-14.02,-2.60 L-14.20,-2.61 L-14.20,-2.61 L-14.20,-2.61 L-14.38,-2.60 L-14.38,-2.60 L-14.38,-2.60 L-14.57,-2.59 L-14.57,-2.59 L-14.57,-2.59 L-14.75,-2.56 L-14.75,-2.56 L-14.75,-2.56 L-14.93,-2.51 L-14.93,-2.51 L-14.93,-2.51 L-15.10,-2.46 L-15.10,-2.46 L-15.10,-2.46 L-15.28,-2.40 L-15.28,-2.40 L-15.28,-2.40 L-15.44,-2.32 L-15.44,-2.32 L-15.44,-2.32 L-15.60,-2.23 L-15.60,-2.23 L-15.61,-2.23 L-15.76,-2.14 L-15.76,-2.14 L-15.76,-2.14 L-15.91,-2.03 L-15.91,-2.03 L-15.91,-2.03 L-16.05,-1.91 L-16.05,-1.91 L-16.05,-1.91 L-16.19,-1.79 L-16.19,-1.79 L-16.19,-1.79 L-16.31,-1.65 L-16.31,-1.65 L-16.31,-1.65 L-16.43,-1.51 L-16.43,-1.51 L-16.43,-1.51 L-16.54,-1.36 L-16.54,-1.36 L-16.54,-1.36 L-16.63,-1.21 L-16.63,-1.20 L-16.63,-1.20 L-16.72,-1.04 L-16.72,-1.04 L-16.72,-1.04 L-16.80,-0.88 L-16.80,-0.88 L-16.80,-0.88 L-16.86,-0.70 L-16.86,-0.70 L-16.86,-0.70 L-16.91,-0.53 L-16.91,-0.53 L-16.91,-0.53 L-16.96,-0.35 L-16.96,-0.35 L-16.96,-0.35 L-16.99,-0.17 L-16.99,-0.17 L-16.99,-0.17 L-17.00,0.02 L-17.00,0.02 L-17.00,0.02 L-17.01,0.20 L-17.01,0.20 L-17.01,0.20 L-17.00,0.38 L-17.00,0.38 L-17.00,0.38 L-16.99,0.57 L-16.99,0.57 L-16.99,0.57 L-16.96,0.75 L-16.96,0.75 L-16.96,0.75 L-16.91,0.93 L-16.91,0.93 L-16.91,0.93 L-16.86,1.10 L-16.86,1.10 L-16.86,1.10 L-16.80,1.28 L-16.80,1.28 L-16.80,1.28 L-16.72,1.44 L-16.72,1.44 L-16.72,1.44 L-16.63,1.60 L-16.63,1.60 L-16.63,1.61 L-16.54,1.76 L-16.54,1.76 L-16.54,1.76 L-16.43,1.91 L-16.43,1.91 L-16.43,1.91 L-16.31,2.05 L-16.31,2.05 L-16.31,2.05 L-16.19,2.19 L-16.19,2.19 L-11.43,6.94 L-11.45,6.95 L-11.45,6.95 L-11.45,6.95 L-11.56,7.08 L-11.56,7.08 L-11.56,7.08 L-11.67,7.21 L-11.67,7.21 L-11.67,7.21 L-11.77,7.35 L-11.77,7.35 L-11.77,7.35 L-11.86,7.49 L-11.86,7.50 L-11.86,7.50 L-11.94,7.65 L-11.94,7.65 L-11.94,7.65 L-12.01,7.80 L-12.01,7.80 L-12.01,7.80 L-12.07,7.96 L-12.07,7.96 L-12.07,7.96 L-12.12,8.12 L-12.12,8.12 L-12.12,8.12 L-12.16,8.29 L-12.16,8.29 L-12.16,8.29 L-12.19,8.46 L-12.19,8.46 L-12.19,8.46 L-12.20,8.63 L-12.20,8.63 L-12.20,8.63 L-12.21,8.80 L-12.21,8.80 L-12.21,8.80 L-12.20,8.97 L-12.20,8.97 L-12.20,8.97 L-12.19,9.14 L-12.19,9.14 L-12.19,9.14 L-12.16,9.31 L-12.16,9.31 L-12.16,9.31 L-12.12,9.48 L-12.12,9.48 L-12.12,9.48 L-12.07,9.64 L-12.07,9.64 L-12.07,9.64 L-12.01,9.80 L-12.01,9.80 L-12.01,9.80 L-11.94,9.95 L-11.94,9.95 L-11.94,9.95 L-11.86,10.10 L-11.86,10.10 L-11.86,10.11 L-11.77,10.25 L-11.77,10.25 L-11.77,10.25 L-11.67,10.39 L-11.67,10.39 L-11.67,10.39 L-11.56,10.52 L-11.56,10.52 L-11.56,10.52 L-11.45,10.65 L-11.45,10.65 L8.97,31.06 L18.07,31.06 L28.82,12.60 L16.41,0.19 L16.41,0.19 L16.41,0.19 L16.41,0.19 L16.41,0.19 L16.41,0.19 L16.41,0.19 L16.41,0.19 L16.41,0.19 L16.40,0.19 L9.83,-3.58 L-2.29,-15.70 L-2.29,-15.70 L-2.30,-15.71 L-2.30,-15.71 L-2.56,-15.97 L-2.56,-15.97 L-2.56,-15.97 L-2.58,-15.99 L-2.58,-15.99 L-2.58,-15.99 L-2.84,-16.23 L-2.84,-16.23 L-2.84,-16.23 L-2.96,-16.33 L-2.96,-16.33 L-2.96,-16.33 L-2.96,-16.33 L-3.08,-16.42 L-3.08,-16.42 L-3.08,-16.42 L-3.08,-16.42 L-3.21,-16.49 L-3.21,-16.49 L-3.21,-16.49 L-3.21,-16.49 L-3.34,-16.55 L-3.34,-16.55 L-3.34,-16.55 L-3.34,-16.55 L-3.48,-16.59 L-3.48,-16.59 L-3.48,-16.59 L-3.48,-16.60 L-3.63,-16.63 L-3.63,-16.63 L-3.63,-16.63 L-3.63,-16.63 L-3.77,-16.65 L-3.77,-16.65 L-3.77,-16.65 L-3.77,-16.65 L-3.92,-16.65 L-3.92,-16.65 L-3.92,-16.65 L-3.92,-16.65 L-4.07,-16.64 L-4.07,-16.64 L-4.07,-16.64 L-4.07,-16.64 L-4.22,-16.61 L-4.22,-16.61 L-4.22,-16.61 L-4.22,-16.61 L-4.36,-16.57 L-4.36,-16.57 L-4.36,-16.57 L-4.36,-16.57 L-4.50,-16.52 L-4.50,-16.52 L-4.50,-16.52 L-4.50,-16.52 L-4.63,-16.45 L-4.63,-16.45 L-4.63,-16.45 L-4.63,-16.45 L-4.75,-16.37 L-4.75,-16.37 L-4.75,-16.37 L-4.75,-16.37 L-4.87,-16.28 L-4.87,-16.28 L-4.87,-16.28 L-4.87,-16.28 L-4.98,-16.18 L-4.98,-16.18 L-4.98,-16.18 L-4.98,-16.18 L-5.07,-16.07 L-5.07,-16.07 L-5.07,-16.07 L-5.07,-16.07 L-5.16,-15.95 L-5.16,-15.95 L-5.16,-15.95 L-5.16,-15.94 L-5.23,-15.82 L-5.23,-15.82 L-5.23,-15.82 L-5.23,-15.82 L-5.29,-15.68 L-5.29,-15.68 L-5.29,-15.68 L-5.29,-15.68 L-5.34,-15.54 L-5.34,-15.54 L-5.34,-15.54 L-5.34,-15.54 L-5.37,-15.40 L-5.37,-15.40 L-5.37,-15.40 L-5.37,-15.39 L-5.39,-15.25 L-5.39,-15.25 L-5.39,-15.25 L-5.39,-15.25 L-5.39,-15.10 L-5.39,-15.10 L-5.39,-15.10 L-5.39,-15.10 L-5.38,-14.95 L-5.38,-14.95 L-5.38,-14.95 L-5.38,-14.95 L-5.36,-14.81 L-5.36,-14.81 L-5.36,-14.81 L-5.36,-14.81 L-5.32,-14.66 L-5.32,-14.66 L-5.32,-14.66 L-5.32,-14.66 L-5.26,-14.53 L-5.26,-14.53 L-5.26,-14.53 L-5.26,-14.52 L-5.20,-14.39 L-5.20,-14.39 L-5.20,-14.39 L-5.19,-14.39 L-5.12,-14.27 L-5.12,-14.27 L-5.12,-14.27 L-5.12,-14.27 L-5.02,-14.15 L-5.02,-14.15 L-5.02,-14.15 L-5.02,-14.15 L-4.92,-14.04 L-4.92,-14.04 L-3.96,-13.08 L-3.74,-12.84 L-3.52,-12.59 L-3.30,-12.34 L-3.09,-12.08 L-2.88,-11.81 L-2.67,-11.55 L-2.48,-11.28 L-2.28,-11.01 L-2.09,-10.73 L-1.91,-10.45 L-1.73,-10.17 L-1.55,-9.88 L-1.38,-9.59 L-1.22,-9.30 L-1.06,-9.01 L-0.90,-8.71 L-0.75,-8.41 L-0.61,-8.11 L-0.47,-7.81 L-0.34,-7.50 L-0.21,-7.19 L-0.08,-6.88 L0.01,-6.63 L-2.76,-9.40 L-2.76,-9.40 L-2.84,-9.48 L-2.84,-9.48 L-2.84,-9.48 L-2.84,-9.48 L-2.93,-9.55 L-2.93,-9.55 L-2.93,-9.55 L-2.93,-9.55 L-3.03,-9.61 L-3.03,-9.61 L-3.03,-9.61 L-3.03,-9.61 L-3.13,-9.66 L-3.13,-9.66 L-3.13,-9.66 L-3.13,-9.66 L-3.24,-9.70 L-3.24,-9.70 L-3.24,-9.70 L-3.24,-9.70 L-3.35,-9.73 L-3.35,-9.73 L-3.35,-9.73 L-3.35,-9.73 L-3.46,-9.75 L-3.46,-9.75 L-3.46,-9.75 L-3.46,-9.75 L-3.57,-9.76 L-3.57,-9.76 L-3.57,-9.76 L-3.57,-9.76 L-3.69,-9.76 L-3.69,-9.76 L-3.69,-9.76 L-7.11,-9.50 L-7.75,-10.15 L-7.75,-10.15 L-7.88,-10.26Z" fill="#3c7be3"/><path d="M-3.18,-7.53 L-3.08,-7.57 L-2.98,-7.63 L-2.89,-7.69 L-2.81,-7.77 L-2.73,-7.85 L-2.66,-7.94 L-2.60,-8.03 L-2.55,-8.14 L-2.51,-8.24 L-2.48,-8.35 L-2.46,-8.46 L-2.45,-8.57 L-2.45,-8.69 L-2.47,-8.80 L-2.49,-8.91 L-2.53,-9.02 L-2.57,-9.12 L-2.63,-9.22 L-2.69,-9.31 L-2.77,-9.39 L-2.85,-9.47 L-2.94,-9.54 L-3.03,-9.60 L-3.14,-9.65 L-3.24,-9.69 L-3.35,-9.72 L-3.46,-9.74 L-3.57,-9.75 L-3.69,-9.75 L-7.28,-9.48 L-7.35,-9.60 L-7.44,-9.74 L-7.54,-9.88 L-7.65,-10.01 L-7.76,-10.14 L-7.89,-10.25 L-8.02,-10.36 L-8.16,-10.46 L-8.30,-10.55 L-8.45,-10.63 L-8.61,-10.70 L-8.76,-10.76 L-8.93,-10.81 L-9.09,-10.85 L-9.26,-10.88 L-9.43,-10.89 L-9.60,-10.90 L-9.77,-10.89 L-9.94,-10.88 L-10.11,-10.85 L-10.27,-10.81 L-10.44,-10.76 L-10.59,-10.70 L-10.75,-10.63 L-10.90,-10.55 L-11.04,-10.46 L-11.18,-10.36 L-11.31,-10.25 L-11.44,-10.14 L-11.55,-10.01 L-11.66,-9.88 L-11.76,-9.74 L-11.85,-9.60 L-11.93,-9.45 L-12.00,-9.29 L-12.06,-9.14 L-12.11,-8.97 L-12.15,-8.81 L-12.18,-8.64 L-12.19,-8.47 L-12.20,-8.30 L-12.19,-8.13 L-12.18,-7.96 L-12.15,-7.79 L-12.11,-7.63 L-12.06,-7.46 L-12.00,-7.31 L-11.93,-7.15 L-11.85,-7.00 L-11.76,-6.86 L-11.66,-6.72 L-11.55,-6.59 L-11.44,-6.46 L-11.31,-6.35 L-11.18,-6.24 L-11.04,-6.14 L-10.90,-6.05 L-10.75,-5.97 L-10.59,-5.90 L-10.44,-5.84 L-10.27,-5.79 L-10.11,-5.75 L-9.94,-5.72 L-9.77,-5.71 L-9.60,-5.70 L-9.43,-5.71 L-9.26,-5.72 L-9.09,-5.75 L-8.93,-5.79 L-8.76,-5.84 L-8.61,-5.90 L-8.45,-5.97 L-8.30,-6.05 L-8.16,-6.14 L-8.02,-6.24 L-7.89,-6.35 L-7.76,-6.46 L-7.65,-6.59 L-7.54,-6.72 L-7.44,-6.86 L-7.35,-7.00 L-7.27,-7.15 L-7.26,-7.17 L-3.51,-7.45 L-3.40,-7.47 L-3.29,-7.49 L-3.18,-7.53Z M-3.96,-13.09 L-3.73,-12.85 L-3.51,-12.60 L-3.29,-12.34 L-3.08,-12.08 L-2.87,-11.82 L-2.67,-11.55 L-2.47,-11.29 L-2.27,-11.01 L-2.08,-10.74 L-1.90,-10.46 L-1.72,-10.17 L-1.54,-9.89 L-1.37,-9.60 L-1.21,-9.31 L-1.05,-9.01 L-0.89,-8.72 L-0.74,-8.42 L-0.60,-8.11 L-0.46,-7.81 L-0.33,-7.50 L-0.20,-7.19 L-0.08,-6.88 L0.04,-6.57 L0.15,-6.25 L0.26,-5.93 L0.36,-5.61 L0.46,-5.29 L0.55,-4.97 L0.63,-4.64 L0.71,-4.32 L0.78,-3.99 L0.85,-3.66 L0.91,-3.33 L0.96,-3.00 L1.01,-2.67 L1.06,-2.34 L1.09,-2.01 L1.13,-1.67 L1.15,-1.34 L1.17,-1.00 L1.17,-1.00 L-11.67,-1.00 L-11.69,-1.04 L-11.78,-1.20 L-11.87,-1.36 L-11.98,-1.50 L-12.09,-1.65 L-12.22,-1.78 L-12.35,-1.91 L-12.50,-2.02 L-12.64,-2.13 L-12.80,-2.22 L-12.96,-2.31 L-13.13,-2.39 L-13.30,-2.45 L-13.48,-2.50 L-13.65,-2.55 L-13.83,-2.58 L-14.02,-2.59 L-14.20,-2.60 L-14.38,-2.59 L-14.57,-2.58 L-14.75,-2.55 L-14.92,-2.50 L-15.10,-2.45 L-15.27,-2.39 L-15.44,-2.31 L-15.60,-2.22 L-15.76,-2.13 L-15.90,-2.02 L-16.05,-1.91 L-16.18,-1.78 L-16.31,-1.65 L-16.42,-1.50 L-16.53,-1.36 L-16.62,-1.20 L-16.71,-1.04 L-16.79,-0.87 L-16.85,-0.70 L-16.90,-0.52 L-16.95,-0.35 L-16.98,-0.17 L-16.99,0.02 L-17.00,0.20 L-16.99,0.38 L-16.98,0.57 L-16.95,0.75 L-16.90,0.92 L-16.85,1.10 L-16.79,1.27 L-16.71,1.44 L-16.62,1.60 L-16.53,1.76 L-16.42,1.90 L-16.31,2.05 L-16.18,2.18 L-16.05,2.31 L-15.90,2.42 L-15.76,2.53 L-15.60,2.62 L-15.44,2.71 L-15.27,2.79 L-15.10,2.85 L-14.92,2.90 L-14.75,2.95 L-14.57,2.98 L-14.38,2.99 L-14.20,3.00 L-14.02,2.99 L-13.83,2.98 L-13.65,2.95 L-13.48,2.90 L-13.30,2.85 L-13.13,2.79 L-12.96,2.71 L-12.80,2.62 L-12.64,2.53 L-12.50,2.42 L-12.35,2.31 L-12.22,2.18 L-12.09,2.05 L-11.98,1.90 L-11.87,1.76 L-11.78,1.60 L-11.69,1.44 L-11.67,1.40 L1.15,1.40 L1.13,1.67 L1.09,2.01 L1.06,2.34 L1.01,2.67 L0.96,3.00 L0.91,3.33 L0.85,3.66 L0.78,3.99 L0.71,4.32 L0.63,4.64 L0.55,4.97 L0.46,5.29 L0.36,5.61 L0.26,5.93 L0.15,6.25 L0.04,6.57 L-0.08,6.88 L-0.20,7.19 L-0.33,7.50 L-0.46,7.81 L-0.60,8.11 L-0.74,8.42 L-0.89,8.72 L-1.05,9.01 L-1.21,9.31 L-1.37,9.60 L-1.54,9.89 L-1.72,10.17 L-1.90,10.46 L-2.08,10.74 L-2.27,11.01 L-2.47,11.29 L-2.67,11.55 L-2.87,11.82 L-3.08,12.08 L-3.29,12.34 L-3.51,12.60 L-3.73,12.85 L-3.96,13.09 L-4.19,13.34 L-4.42,13.58 L-4.66,13.81 L-4.92,14.05 L-5.02,14.16 L-5.11,14.27 L-5.19,14.40 L-5.25,14.53 L-5.31,14.67 L-5.35,14.81 L-5.37,14.95 L-5.38,15.10 L-5.38,15.25 L-5.36,15.39 L-5.33,15.54 L-5.28,15.68 L-5.22,15.81 L-5.15,15.94 L-5.07,16.06 L-4.97,16.17 L-4.86,16.27 L-4.75,16.36 L-4.62,16.44 L-4.49,16.51 L-4.36,16.56 L-4.21,16.60 L-4.07,16.63 L-3.92,16.64 L-3.77,16.64 L-3.63,16.62 L-3.48,16.59 L-3.35,16.54 L-3.21,16.48 L-3.08,16.41 L-2.96,16.32 L-2.85,16.23 L-2.59,15.98 L-2.57,15.96 L-2.31,15.71 L-2.29,15.69 L-2.04,15.43 L-2.02,15.41 L-1.77,15.15 L-1.76,15.13 L-1.51,14.86 L-1.49,14.84 L-1.25,14.57 L-1.24,14.55 L-1.00,14.28 L-0.99,14.26 L-0.76,13.98 L-0.74,13.96 L-0.51,13.68 L-0.50,13.66 L-0.28,13.37 L-0.26,13.35 L-0.05,13.06 L-0.03,13.04 L0.18,12.74 L0.19,12.72 L0.40,12.42 L0.41,12.40 L0.61,12.10 L0.63,12.08 L0.82,11.78 L0.83,11.75 L1.02,11.45 L1.04,11.42 L1.22,11.11 L1.23,11.09 L1.41,10.77 L1.42,10.75 L1.60,10.43 L1.61,10.41 L1.77,10.09 L1.79,10.07 L1.95,9.74 L1.96,9.72 L2.11,9.39 L2.13,9.37 L2.28,9.04 L2.29,9.02 L2.43,8.69 L2.44,8.66 L2.58,8.33 L2.59,8.30 L2.72,7.97 L2.73,7.94 L2.86,7.61 L2.87,7.58 L2.99,7.24 L2.99,7.22 L3.11,6.87 L3.12,6.85 L3.23,6.50 L3.23,6.48 L3.34,6.13 L3.34,6.11 L3.44,5.76 L3.45,5.73 L3.54,5.38 L3.54,5.36 L3.63,5.01 L3.63,4.98 L3.71,4.63 L3.72,4.60 L3.79,4.25 L3.79,4.22 L3.86,3.87 L3.86,3.84 L3.92,3.49 L3.93,3.46 L3.98,3.10 L3.99,3.08 L4.03,2.72 L4.04,2.69 L4.08,2.33 L4.08,2.31 L4.11,1.95 L4.12,1.92 L4.14,1.56 L4.15,1.54 L4.17,1.17 L4.17,1.15 L4.19,0.79 L4.19,0.76 L4.20,0.40 L4.20,0.37 L4.20,0.01 L4.20,-0.01 L4.20,-0.37 L4.20,-0.40 L4.19,-0.76 L4.19,-0.79 L4.17,-1.15 L4.17,-1.17 L4.15,-1.54 L4.14,-1.56 L4.12,-1.92 L4.11,-1.95 L4.08,-2.31 L4.08,-2.33 L4.04,-2.69 L4.03,-2.72 L3.99,-3.08 L3.98,-3.10 L3.93,-3.46 L3.92,-3.49 L3.86,-3.84 L3.86,-3.87 L3.79,-4.22 L3.79,-4.25 L3.72,-4.60 L3.71,-4.63 L3.63,-4.98 L3.63,-5.01 L3.54,-5.36 L3.54,-5.38 L3.45,-5.73 L3.44,-5.76 L3.34,-6.11 L3.34,-6.13 L3.23,-6.48 L3.23,-6.50 L3.12,-6.85 L3.11,-6.87 L2.99,-7.22 L2.99,-7.24 L2.87,-7.58 L2.86,-7.61 L2.73,-7.94 L2.72,-7.97 L2.59,-8.30 L2.58,-8.33 L2.44,-8.66 L2.43,-8.69 L2.29,-9.02 L2.28,-9.04 L2.13,-9.37 L2.11,-9.39 L1.96,-9.72 L1.95,-9.74 L1.79,-10.07 L1.77,-10.09 L1.61,-10.41 L1.60,-10.43 L1.42,-10.75 L1.41,-10.77 L1.23,-11.09 L1.22,-11.11 L1.04,-11.42 L1.02,-11.45 L0.83,-11.75 L0.82,-11.78 L0.63,-12.08 L0.61,-12.10 L0.41,-12.40 L0.40,-12.42 L0.19,-12.72 L0.18,-12.74 L-0.03,-13.04 L-0.05,-13.06 L-0.26,-13.35 L-0.28,-13.37 L-0.50,-13.66 L-0.51,-13.68 L-0.74,-13.96 L-0.76,-13.98 L-0.99,-14.26 L-1.00,-14.28 L-1.24,-14.55 L-1.25,-14.57 L-1.49,-14.84 L-1.51,-14.86 L-1.76,-15.13 L-1.77,-15.15 L-2.02,-15.41 L-2.04,-15.43 L-2.29,-15.69 L-2.31,-15.71 L-2.57,-15.96 L-2.59,-15.98 L-2.85,-16.23 L-2.96,-16.32 L-3.08,-16.41 L-3.21,-16.48 L-3.35,-16.54 L-3.48,-16.59 L-3.63,-16.62 L-3.77,-16.64 L-3.92,-16.64 L-4.07,-16.63 L-4.21,-16.60 L-4.36,-16.56 L-4.49,-16.51 L-4.62,-16.44 L-4.75,-16.36 L-4.86,-16.27 L-4.97,-16.17 L-5.07,-16.06 L-5.15,-15.94 L-5.22,-15.81 L-5.28,-15.68 L-5.33,-15.54 L-5.36,-15.39 L-5.38,-15.25 L-5.38,-15.10 L-5.37,-14.95 L-5.35,-14.81 L-5.31,-14.67 L-5.25,-14.53 L-5.19,-14.40 L-5.11,-14.27 L-5.02,-14.16 L-4.92,-14.05 L-4.66,-13.81 L-4.42,-13.58 L-4.19,-13.34 L-3.96,-13.09Z M9.60,-3.70 L9.60,-1.05 L6.60,-1.05 L6.48,-1.04 L6.36,-1.03 L6.24,-1.00 L6.12,-0.95 L6.01,-0.90 L5.91,-0.84 L5.81,-0.77 L5.72,-0.68 L5.63,-0.59 L5.56,-0.49 L5.50,-0.39 L5.45,-0.28 L5.40,-0.16 L5.37,-0.04 L5.36,0.08 L5.35,0.20 L5.36,0.32 L5.37,0.44 L5.40,0.56 L5.45,0.68 L5.50,0.79 L5.56,0.89 L5.63,0.99 L5.72,1.08 L5.81,1.17 L5.91,1.24 L6.01,1.30 L6.12,1.35 L6.24,1.40 L6.36,1.43 L6.48,1.44 L6.60,1.45 L9.60,1.45 L9.60,4.10 L16.40,0.20 L9.60,-3.70Z M-3.08,9.53 L-2.98,9.47 L-2.89,9.41 L-2.81,9.33 L-2.73,9.25 L-2.66,9.16 L-2.60,9.07 L-2.55,8.96 L-2.51,8.86 L-2.48,8.75 L-2.46,8.64 L-2.45,8.53 L-2.45,8.41 L-2.47,8.30 L-2.49,8.19 L-2.53,8.08 L-2.57,7.98 L-2.63,7.88 L-2.69,7.79 L-2.77,7.71 L-2.85,7.63 L-2.94,7.56 L-3.03,7.50 L-3.14,7.45 L-3.24,7.41 L-3.35,7.38 L-3.46,7.36 L-3.57,7.35 L-3.69,7.35 L-7.28,7.62 L-7.35,7.50 L-7.44,7.36 L-7.54,7.22 L-7.65,7.09 L-7.76,6.96 L-7.89,6.85 L-8.02,6.74 L-8.16,6.64 L-8.30,6.55 L-8.45,6.47 L-8.61,6.40 L-8.76,6.34 L-8.93,6.29 L-9.09,6.25 L-9.26,6.22 L-9.43,6.21 L-9.60,6.20 L-9.77,6.21 L-9.94,6.22 L-10.11,6.25 L-10.27,6.29 L-10.44,6.34 L-10.59,6.40 L-10.75,6.47 L-10.90,6.55 L-11.04,6.64 L-11.18,6.74 L-11.31,6.85 L-11.44,6.96 L-11.55,7.09 L-11.66,7.22 L-11.76,7.36 L-11.85,7.50 L-11.93,7.65 L-12.00,7.81 L-12.06,7.96 L-12.11,8.13 L-12.15,8.29 L-12.18,8.46 L-12.19,8.63 L-12.20,8.80 L-12.19,8.97 L-12.18,9.14 L-12.15,9.31 L-12.11,9.47 L-12.06,9.64 L-12.00,9.79 L-11.93,9.95 L-11.85,10.10 L-11.76,10.24 L-11.66,10.38 L-11.55,10.51 L-11.44,10.64 L-11.31,10.75 L-11.18,10.86 L-11.04,10.96 L-10.90,11.05 L-10.75,11.13 L-10.59,11.20 L-10.44,11.26 L-10.27,11.31 L-10.11,11.35 L-9.94,11.38 L-9.77,11.39 L-9.60,11.40 L-9.43,11.39 L-9.26,11.38 L-9.09,11.35 L-8.93,11.31 L-8.76,11.26 L-8.61,11.20 L-8.45,11.13 L-8.30,11.05 L-8.16,10.96 L-8.02,10.86 L-7.89,10.75 L-7.76,10.64 L-7.65,10.51 L-7.54,10.38 L-7.44,10.24 L-7.35,10.10 L-7.27,9.95 L-7.26,9.93 L-3.51,9.65 L-3.40,9.63 L-3.29,9.61 L-3.18,9.57 L-3.08,9.53Z" fill="#fff" fill-rule="evenodd"/><circle cx="-14.2" cy="0.2" r="1.15" fill="#4285f4"/><circle cx="-9.6" cy="-8.3" r="1.0" fill="#4285f4"/><circle cx="-9.6" cy="8.8" r="1.0" fill="#4285f4"/></g>
<text x="368.7" y="297.6" font-size="9.9" text-anchor="middle" fill="#000" font-weight="normal" >on-prem-nat-us-central1</text>
<g transform="translate(355.45,411.40) scale(1.0000)"><path d="M-30.71,2.26 Q-32.00,0.00 -30.71,-2.26 L-17.29,-25.67 Q-16.00,-27.93 -13.40,-27.93 L13.40,-27.93 Q16.00,-27.93 17.29,-25.67 L30.71,-2.26 Q32.00,0.00 30.71,2.26 L17.29,25.67 Q16.00,27.93 13.40,27.93 L-13.40,27.93 Q-16.00,27.93 -17.29,25.67 Z" fill="#4285f4"/><path d="M5.81,-12.11 L5.81,-12.11 L5.80,-12.11 L5.80,-12.11 L5.80,-12.11 L5.80,-12.11 L5.80,-12.11 L5.80,-12.11 L3.80,-12.11 L3.80,-12.11 L3.80,-12.11 L3.80,-12.11 L3.80,-12.11 L3.80,-12.11 L3.80,-12.11 L3.79,-12.11 L3.79,-12.11 L3.79,-12.11 L3.79,-12.11 L3.79,-12.11 L3.79,-12.10 L3.79,-12.10 L3.79,-12.10 L3.79,-12.10 L3.79,-12.10 L3.79,-12.10 L3.79,-9.32 L1.01,-12.11 L1.01,-12.11 L1.01,-12.11 L1.00,-12.11 L1.00,-12.11 L1.00,-12.11 L1.00,-12.11 L1.00,-12.11 L1.00,-12.11 L1.00,-12.11 L-1.00,-12.11 L-1.00,-12.11 L-1.00,-12.11 L-1.00,-12.11 L-1.00,-12.11 L-1.00,-12.11 L-1.00,-12.11 L-1.01,-12.11 L-1.01,-12.11 L-1.01,-12.11 L-1.01,-12.11 L-1.01,-12.11 L-1.01,-12.10 L-1.01,-12.10 L-1.01,-12.10 L-1.01,-12.10 L-1.01,-12.10 L-1.01,-12.10 L-1.01,-9.32 L-3.79,-12.11 L-3.79,-12.11 L-3.79,-12.11 L-3.80,-12.11 L-3.80,-12.11 L-3.80,-12.11 L-3.80,-12.11 L-3.80,-12.11 L-3.80,-12.11 L-3.80,-12.11 L-5.80,-12.11 L-5.80,-12.11 L-5.80,-12.11 L-5.80,-12.11 L-5.80,-12.11 L-5.80,-12.11 L-5.81,-12.11 L-5.81,-12.11 L-5.81,-12.11 L-5.81,-12.11 L-5.81,-12.11 L-5.81,-12.10 L-5.81,-12.10 L-5.81,-12.10 L-5.81,-12.10 L-5.81,-12.10 L-5.81,-12.10 L-5.81,-8.66 L-8.65,-8.66 L-8.65,-8.66 L-8.65,-8.66 L-8.65,-8.66 L-8.65,-8.66 L-8.65,-8.66 L-8.66,-8.66 L-8.66,-8.66 L-8.66,-8.66 L-8.66,-8.66 L-8.66,-8.66 L-8.66,-8.65 L-8.66,-8.65 L-8.66,-8.65 L-8.66,-8.65 L-8.66,-8.65 L-8.66,-8.65 L-8.66,-5.81 L-12.30,-5.81 L-12.30,-5.81 L-12.30,-5.81 L-12.30,-5.81 L-12.30,-5.81 L-12.30,-5.81 L-12.31,-5.81 L-12.31,-5.81 L-12.31,-5.81 L-12.31,-5.81 L-12.31,-5.81 L-12.31,-5.80 L-12.31,-5.80 L-12.31,-5.80 L-12.31,-5.80 L-12.31,-5.80 L-12.31,-5.80 L-12.31,-3.80 L-12.31,-3.80 L-12.31,-3.80 L-12.31,-3.80 L-12.31,-3.80 L-12.31,-3.80 L-12.31,-3.80 L-12.31,-3.79 L-12.31,-3.79 L-12.31,-3.79 L-9.52,-1.01 L-12.30,-1.01 L-12.30,-1.01 L-12.30,-1.01 L-12.30,-1.01 L-12.30,-1.01 L-12.30,-1.01 L-12.31,-1.01 L-12.31,-1.01 L-12.31,-1.01 L-12.31,-1.01 L-12.31,-1.01 L-12.31,-1.00 L-12.31,-1.00 L-12.31,-1.00 L-12.31,-1.00 L-12.31,-1.00 L-12.31,-1.00 L-12.31,-1.00 L-12.31,1.00 L-12.31,1.00 L-12.31,1.00 L-12.31,1.00 L-12.31,1.00 L-12.31,1.00 L-12.31,1.00 L-12.31,1.01 L-12.31,1.01 L-12.31,1.01 L-9.52,3.79 L-12.30,3.79 L-12.30,3.79 L-12.30,3.79 L-12.30,3.79 L-12.30,3.79 L-12.30,3.79 L-12.31,3.79 L-12.31,3.79 L-12.31,3.79 L-12.31,3.79 L-12.31,3.79 L-12.31,3.80 L-12.31,3.80 L-12.31,3.80 L-12.31,3.80 L-12.31,3.80 L-12.31,3.80 L-12.31,3.80 L-12.31,5.80 L-12.31,5.80 L-12.31,5.80 L-12.31,5.80 L-12.31,5.80 L-12.31,5.80 L-12.31,5.81 L-12.31,5.81 L-12.31,5.81 L9.81,27.93 L16.00,27.93 L26.94,8.83 L12.31,-5.81 L12.31,-5.81 L12.31,-5.81 L12.30,-5.81 L12.30,-5.81 L12.30,-5.81 L12.30,-5.81 L12.30,-5.81 L12.30,-5.81 L12.10,-5.81 L5.81,-12.11 L5.81,-12.11Z" fill="#3c7be3"/><path d="M-12.30,-5.80 L-12.30,-3.80 L-8.65,-3.80 L-8.65,-1.00 L-12.30,-1.00 L-12.30,1.00 L-8.65,1.00 L-8.65,3.80 L-12.30,3.80 L-12.30,5.80 L-8.65,5.80 L-8.65,8.65 L-5.80,8.65 L-5.80,12.10 L-3.80,12.10 L-3.80,8.65 L-1.00,8.65 L-1.00,12.10 L1.00,12.10 L1.00,8.65 L3.80,8.65 L3.80,12.10 L5.80,12.10 L5.80,8.65 L8.65,8.65 L8.65,5.80 L12.30,5.80 L12.30,3.80 L8.65,3.80 L8.65,1.00 L12.30,1.00 L12.30,-1.00 L8.65,-1.00 L8.65,-3.80 L12.30,-3.80 L12.30,-5.80 L8.65,-5.80 L8.65,-8.65 L5.80,-8.65 L5.80,-12.10 L3.80,-12.10 L3.80,-8.65 L1.00,-8.65 L1.00,-12.10 L-1.00,-12.10 L-1.00,-8.65 L-3.80,-8.65 L-3.80,-12.10 L-5.80,-12.10 L-5.80,-8.65 L-8.65,-8.65 L-8.65,-5.80 L-12.30,-5.80Z M-6.50,6.50 L-6.50,-6.50 L6.50,-6.50 L6.50,6.50 L-6.50,6.50Z M-3.50,-3.40 L-3.50,3.60 L3.50,3.60 L3.50,-3.40 L-3.50,-3.40Z" fill="#fff" fill-rule="evenodd"/></g>
<text x="355.5" y="452.2" font-size="11.1" text-anchor="middle" fill="#000" font-weight="normal" >on-prem-testbox</text>
<path d="M569.5,359.3 L770,328.2 C830,318.9 880,316.5 940,316.5 C1010,317 1080,322 1150,336.8 L1253,359.4" fill="none" stroke="#ff8c0a" stroke-width="2.2"/>
<path d="M563,388.8 L775,421 C822,428.3 880,431.2 940,431.2 C1000,431.2 1060,426 1150,410 L1256.8,390.4" fill="none" stroke="#ff8c0a" stroke-width="2.2"/>
<line x1="570" y1="369.5" x2="1255" y2="369.5" stroke="#0d63e8" stroke-width="1.6"/>
<line x1="565" y1="382.6" x2="1258" y2="382.6" stroke="#0d63e8" stroke-width="1.6"/>
<g transform="translate(538.75,267.60) scale(1.0000)"><path d="M-34.85,2.25 Q-36.15,0.00 -34.85,-2.25 L-19.37,-29.15 Q-18.07,-31.40 -15.47,-31.40 L15.47,-31.40 Q18.07,-31.40 19.37,-29.15 L34.85,-2.25 Q36.15,0.00 34.85,2.25 L19.37,29.15 Q18.07,31.40 15.47,31.40 L-15.47,31.40 Q-18.07,31.40 -19.37,29.15 Z" fill="#4285f4"/><path d="M0.01,-16.91 L0.01,-16.91 L0.00,-16.91 L0.00,-16.91 L0.00,-16.91 L0.00,-16.91 L0.00,-16.91 L0.00,-16.91 L-0.00,-16.91 L-0.00,-16.91 L-0.00,-16.91 L-0.00,-16.91 L-0.00,-16.91 L-0.01,-16.91 L-0.01,-16.91 L-0.01,-16.91 L-8.61,-8.31 L-8.61,-8.31 L-8.61,-8.31 L-8.61,-8.30 L-8.61,-8.30 L-8.61,-8.30 L-8.61,-8.30 L-8.61,-8.30 L-8.61,-8.30 L-8.61,-8.30 L-8.61,-8.30 L-8.61,-8.30 L-8.61,-8.30 L-8.61,-8.30 L-8.61,-8.29 L-8.61,-8.29 L-8.61,-8.29 L-3.86,-3.55 L-3.86,-3.40 L-3.86,-3.40 L-3.86,-3.40 L-3.86,-3.40 L-3.86,-3.40 L-3.86,-3.40 L-3.86,-3.39 L-3.86,-3.39 L-3.86,-3.39 L2.93,3.39 L-0.10,3.39 L-3.49,-0.01 L-3.49,-0.01 L-12.04,-8.41 L-12.04,-8.41 L-12.04,-8.41 L-12.04,-8.41 L-12.04,-8.41 L-12.04,-8.41 L-12.04,-8.41 L-12.04,-8.41 L-12.04,-8.41 L-12.04,-8.41 L-12.05,-8.41 L-12.05,-8.41 L-12.05,-8.41 L-12.05,-8.41 L-12.05,-8.41 L-12.05,-8.41 L-12.05,-8.41 L-12.05,-8.41 L-12.05,-8.41 L-12.05,-8.41 L-12.05,-8.41 L-12.05,-8.41 L-12.05,-8.41 L-12.05,-8.41 L-12.05,-8.41 L-12.05,-8.41 L-12.05,-8.41 L-12.05,-8.41 L-12.05,-8.41 L-12.05,-8.41 L-12.05,-8.41 L-12.05,-8.41 L-12.05,-8.41 L-12.05,-8.41 L-12.05,-8.41 L-12.05,-8.41 L-12.05,-8.41 L-12.05,-8.41 L-12.05,-8.41 L-12.05,-8.41 L-12.05,-8.41 L-12.05,-8.41 L-12.05,-8.41 L-12.05,-8.41 L-12.05,-8.41 L-12.05,-8.41 L-12.05,-8.41 L-12.05,-8.41 L-12.05,-8.41 L-12.05,-8.41 L-12.05,-8.41 L-12.05,-8.41 L-12.05,-8.41 L-12.06,-8.41 L-12.06,-8.41 L-12.06,-8.41 L-12.06,-8.41 L-12.06,-8.41 L-12.06,-8.41 L-12.06,-8.41 L-12.06,-8.41 L-12.06,-8.41 L-12.06,-8.41 L-12.06,-8.41 L-12.06,-8.41 L-12.06,-8.41 L-12.06,-8.41 L-12.06,-8.41 L-12.06,-8.41 L-12.06,-8.41 L-12.06,-8.41 L-12.06,-8.41 L-12.06,-8.41 L-12.06,-8.41 L-12.06,-8.40 L-12.06,-8.40 L-12.06,-8.40 L-12.06,-8.40 L-12.06,-8.40 L-12.06,-8.40 L-12.06,-8.40 L-12.06,-8.40 L-12.06,-8.40 L-12.06,-8.40 L-12.06,-8.40 L-12.06,-8.40 L-12.06,-8.40 L-12.06,-8.40 L-12.06,-8.40 L-12.06,-8.40 L-12.06,-8.40 L-12.06,-8.40 L-12.06,-8.40 L-12.06,-8.40 L-12.06,-8.40 L-12.06,-4.21 L-17.35,-4.21 L-17.35,-4.21 L-17.35,-4.21 L-17.35,-4.21 L-17.35,-4.21 L-17.35,-4.21 L-17.36,-4.21 L-17.36,-4.21 L-17.36,-4.21 L-17.36,-4.21 L-17.36,-4.21 L-17.36,-4.20 L-17.36,-4.20 L-17.36,-4.20 L-17.36,-4.20 L-17.36,-4.20 L-17.36,-4.20 L-17.36,4.20 L-17.36,4.20 L-17.36,4.20 L-17.36,4.20 L-17.36,4.20 L-17.36,4.20 L-17.36,4.21 L-17.36,4.21 L-17.36,4.21 L9.84,31.40 L18.07,31.40 L30.82,9.26 L17.36,-4.21 L17.36,-4.21 L17.36,-4.21 L17.35,-4.21 L17.35,-4.21 L17.35,-4.21 L17.35,-4.21 L17.35,-4.21 L17.35,-4.21 L16.25,-4.21 L12.06,-8.41 L12.06,-8.41 L12.06,-8.41 L12.06,-8.41 L12.06,-8.41 L12.06,-8.41 L12.06,-8.41 L12.06,-8.41 L12.06,-8.41 L12.05,-8.41 L12.05,-8.41 L12.05,-8.41 L12.05,-8.41 L12.05,-8.41 L12.05,-8.41 L12.05,-8.41 L12.05,-8.41 L12.05,-8.41 L12.05,-8.41 L12.05,-8.41 L12.05,-8.41 L12.05,-8.41 L12.05,-8.41 L12.05,-8.41 L12.05,-8.41 L12.05,-8.41 L12.05,-8.41 L12.05,-8.41 L12.05,-8.41 L12.05,-8.41 L12.05,-8.41 L12.05,-8.41 L12.05,-8.41 L12.05,-8.41 L12.05,-8.41 L12.05,-8.41 L12.05,-8.41 L12.05,-8.41 L12.05,-8.41 L12.05,-8.41 L12.05,-8.41 L12.05,-8.41 L12.05,-8.41 L12.05,-8.41 L12.05,-8.41 L12.05,-8.41 L12.05,-8.41 L12.05,-8.41 L12.05,-8.41 L12.05,-8.41 L12.05,-8.41 L12.05,-8.41 L12.04,-8.41 L12.04,-8.41 L12.04,-8.41 L12.04,-8.41 L12.04,-8.41 L12.04,-8.41 L12.04,-8.41 L12.04,-8.41 L12.04,-8.41 L12.04,-8.41 L10.26,-6.65 L8.61,-8.31 L8.61,-8.31 L0.01,-16.91 L0.01,-16.91Z" fill="#3c7be3"/><path d="M-8.60,-8.30 L-3.85,-8.30 L-3.85,-3.40 L3.85,-3.40 L3.85,-8.30 L8.60,-8.30 L0.00,-16.90 L-8.60,-8.30Z M-12.05,4.20 L-12.05,8.40 L-3.50,0.00 L-12.05,-8.40 L-12.05,-4.20 L-17.35,-4.20 L-17.35,4.20 L-12.05,4.20Z M12.05,4.20 L17.35,4.20 L17.35,-4.20 L12.05,-4.20 L12.05,-8.40 L3.50,0.00 L12.05,8.40 L12.05,4.20Z M-3.85,8.30 L-8.60,8.30 L0.00,16.90 L8.60,8.30 L3.85,8.30 L3.85,3.40 L-3.85,3.40 L-3.85,8.30Z" fill="#fff" fill-rule="evenodd"/></g>
<text x="538.75" y="311.5" font-size="11.1" text-anchor="middle" fill="#000" font-weight="normal" >on-prem-cr-us-central1-vpn</text>
<text x="538.75" y="324.5" font-size="11.1" text-anchor="middle" fill="#000" font-weight="normal" >ASN 65002</text>
<g transform="translate(538.80,369.25) scale(1.0000)"><path d="M-34.85,2.25 Q-36.15,0.00 -34.85,-2.25 L-19.37,-29.10 Q-18.07,-31.35 -15.47,-31.35 L15.47,-31.35 Q18.07,-31.35 19.37,-29.10 L34.85,-2.25 Q36.15,0.00 34.85,2.25 L19.37,29.10 Q18.07,31.35 15.47,31.35 L-15.47,31.35 Q-18.07,31.35 -19.37,29.10 Z" fill="#4285f4"/><path d="M0.27,-4.10 L0.27,-4.10 L0.27,-4.10 L0.00,-4.11 L-0.00,-4.11 L-0.00,-4.11 L-0.27,-4.10 L-0.27,-4.10 L-0.27,-4.10 L-0.54,-4.07 L-0.54,-4.07 L-0.54,-4.07 L-0.80,-4.03 L-0.80,-4.03 L-0.80,-4.03 L-1.06,-3.97 L-1.06,-3.97 L-1.06,-3.97 L-1.32,-3.89 L-1.32,-3.89 L-1.32,-3.89 L-1.57,-3.80 L-1.57,-3.80 L-1.57,-3.80 L-1.82,-3.69 L-1.82,-3.69 L-1.82,-3.69 L-2.05,-3.56 L-2.05,-3.56 L-2.06,-3.56 L-2.28,-3.42 L-2.28,-3.42 L-2.28,-3.42 L-2.50,-3.26 L-2.50,-3.26 L-2.50,-3.26 L-2.71,-3.09 L-2.71,-3.09 L-2.71,-3.09 L-2.91,-2.91 L-2.91,-2.91 L-2.91,-2.91 L-3.09,-2.71 L-3.09,-2.71 L-3.09,-2.71 L-3.26,-2.50 L-3.26,-2.50 L-3.26,-2.50 L-3.42,-2.28 L-3.42,-2.28 L-3.42,-2.28 L-3.56,-2.06 L-3.56,-2.05 L-3.56,-2.05 L-3.69,-1.82 L-3.69,-1.82 L-3.69,-1.82 L-3.80,-1.57 L-3.80,-1.57 L-3.80,-1.57 L-3.89,-1.32 L-3.89,-1.32 L-3.89,-1.32 L-3.93,-1.21 L-7.60,-1.21 L-10.99,-4.61 L-10.99,-4.61 L-10.99,-4.61 L-11.00,-4.61 L-11.00,-4.61 L-11.00,-4.61 L-11.00,-4.61 L-11.00,-4.61 L-11.00,-4.61 L-20.20,-4.61 L-20.20,-4.61 L-20.20,-4.61 L-20.20,-4.61 L-20.20,-4.61 L-20.20,-4.61 L-20.21,-4.61 L-20.21,-4.61 L-20.21,-4.61 L-20.21,-4.61 L-20.21,-4.61 L-20.21,-4.60 L-20.21,-4.60 L-20.21,-4.60 L-20.21,-4.60 L-20.21,-4.60 L-20.21,-4.60 L-20.21,4.60 L-20.21,4.60 L-20.21,4.60 L-20.21,4.60 L-20.21,4.60 L-20.21,4.60 L-20.21,4.61 L-20.21,4.61 L-20.21,4.61 L6.54,31.35 L18.07,31.35 L36.15,0.00 L35.93,-0.39 L16.31,-20.01 L16.31,-20.01 L16.31,-20.01 L16.30,-20.01 L16.30,-20.01 L16.30,-20.01 L16.30,-20.01 L16.30,-20.01 L16.30,-20.01 L6.50,-20.01 L6.50,-20.01 L6.50,-20.01 L6.50,-20.01 L6.50,-20.01 L6.50,-20.01 L6.49,-20.01 L6.49,-20.01 L6.49,-20.01 L6.49,-20.01 L6.49,-20.01 L6.49,-20.00 L6.49,-20.00 L6.49,-20.00 L6.49,-20.00 L6.49,-20.00 L6.49,-20.00 L6.49,-10.80 L6.49,-10.80 L6.49,-10.80 L6.49,-10.80 L6.49,-10.80 L6.49,-10.80 L6.49,-10.79 L6.49,-10.79 L6.49,-10.79 L10.09,-7.20 L10.09,-1.21 L4.60,-1.21 L2.91,-2.91 L2.91,-2.91 L2.71,-3.09 L2.71,-3.09 L2.71,-3.09 L2.50,-3.26 L2.50,-3.26 L2.50,-3.26 L2.28,-3.42 L2.28,-3.42 L2.28,-3.42 L2.06,-3.56 L2.05,-3.56 L2.05,-3.56 L1.82,-3.69 L1.82,-3.69 L1.82,-3.69 L1.57,-3.80 L1.57,-3.80 L1.57,-3.80 L1.32,-3.89 L1.32,-3.89 L1.32,-3.89 L1.06,-3.97 L1.06,-3.97 L1.06,-3.97 L0.80,-4.03 L0.80,-4.03 L0.80,-4.03 L0.54,-4.07 L0.54,-4.07 L0.54,-4.07 L0.27,-4.10Z" fill="#3c7be3"/><path d="M6.50,-10.80 L10.10,-10.80 L10.10,-1.20 L3.92,-1.20 L3.88,-1.32 L3.79,-1.57 L3.68,-1.81 L3.55,-2.05 L3.41,-2.28 L3.25,-2.50 L3.08,-2.70 L2.90,-2.90 L2.70,-3.08 L2.50,-3.25 L2.28,-3.41 L2.05,-3.55 L1.81,-3.68 L1.57,-3.79 L1.32,-3.88 L1.06,-3.96 L0.80,-4.02 L0.54,-4.06 L0.27,-4.09 L0.00,-4.10 L-0.27,-4.09 L-0.54,-4.06 L-0.80,-4.02 L-1.06,-3.96 L-1.32,-3.88 L-1.57,-3.79 L-1.81,-3.68 L-2.05,-3.55 L-2.28,-3.41 L-2.50,-3.25 L-2.70,-3.08 L-2.90,-2.90 L-3.08,-2.70 L-3.25,-2.50 L-3.41,-2.28 L-3.55,-2.05 L-3.68,-1.81 L-3.79,-1.57 L-3.88,-1.32 L-3.92,-1.20 L-11.00,-1.20 L-11.00,-4.60 L-20.20,-4.60 L-20.20,4.60 L-11.00,4.60 L-11.00,1.20 L-3.92,1.20 L-3.88,1.32 L-3.79,1.57 L-3.68,1.81 L-3.55,2.05 L-3.41,2.28 L-3.25,2.50 L-3.08,2.70 L-2.90,2.90 L-2.70,3.08 L-2.50,3.25 L-2.28,3.41 L-2.05,3.55 L-1.81,3.68 L-1.57,3.79 L-1.32,3.88 L-1.06,3.96 L-0.80,4.02 L-0.54,4.06 L-0.27,4.09 L0.00,4.10 L0.27,4.09 L0.54,4.06 L0.80,4.02 L1.06,3.96 L1.32,3.88 L1.57,3.79 L1.81,3.68 L2.05,3.55 L2.28,3.41 L2.50,3.25 L2.70,3.08 L2.90,2.90 L3.08,2.70 L3.25,2.50 L3.41,2.28 L3.55,2.05 L3.68,1.81 L3.79,1.57 L3.88,1.32 L3.92,1.20 L10.10,1.20 L10.10,10.80 L6.50,10.80 L6.50,20.00 L16.30,20.00 L16.30,10.80 L12.50,10.80 L12.50,-10.80 L16.30,-10.80 L16.30,-20.00 L6.50,-20.00 L6.50,-10.80Z" fill="#fff" fill-rule="evenodd"/><circle cx="0" cy="0" r="2.3" fill="#4285f4"/></g>
<text x="538.75" y="412.7" font-size="11.1" text-anchor="middle" fill="#000" font-weight="normal" >on-prem-vpn-central1</text>
<line x1="805.4" y1="388" x2="805.4" y2="498.4" stroke="#000" stroke-width="1.3"/>
<ellipse cx="805.1" cy="371.8" rx="19" ry="16.9" fill="#6fa8f8" stroke="#0d63e8" stroke-width="1.5"/>
<rect x="699.8" y="498.4" width="211.3" height="30.8" fill="#fff" stroke="#333" stroke-width="1.1"/>
<text x="805.7" y="510.9" font-size="12.3" text-anchor="middle" fill="#000" font-weight="normal" >IPv4 or IPv6 traffic</text>
<ellipse cx="955.4" cy="383.4" rx="21.8" ry="127" fill="#fff" stroke="#000" stroke-width="1.4"/>
<text x="955.5" y="384" font-size="9.8" text-anchor="middle" fill="#000" font-weight="normal" >HA VPN</text>
<rect x="1044.5" y="330.7" width="138.5" height="76.4" fill="#fff"/>
<line x1="1044.5" y1="330.7" x2="1183" y2="330.7" stroke="#000" stroke-width="1.7" stroke-dasharray="2 4.595" stroke-dashoffset="1.0"/><line x1="1183" y1="330.7" x2="1183" y2="407.1" stroke="#000" stroke-width="1.7" stroke-dasharray="2 4.945" stroke-dashoffset="1.0"/><line x1="1183" y1="407.1" x2="1044.5" y2="407.1" stroke="#000" stroke-width="1.7" stroke-dasharray="2 4.595" stroke-dashoffset="1.0"/><line x1="1044.5" y1="407.1" x2="1044.5" y2="330.7" stroke="#000" stroke-width="1.7" stroke-dasharray="2 4.945" stroke-dashoffset="1.0"/>
<text x="1113.6" y="350.6" font-size="12.3" text-anchor="middle" fill="#000" font-weight="normal" >Private google access</text>
<text x="1113.6" y="365.5" font-size="12.3" text-anchor="middle" fill="#000" font-weight="normal" >global front end e.g</text>
<text x="1113.6" y="380.6" font-size="12.3" text-anchor="middle" fill="#000" font-weight="normal" >cloud storage, bigquery</text>
<text x="1113.6" y="395.3" font-size="12.3" text-anchor="middle" fill="#000" font-weight="normal" >etc..</text>
<path d="M1318.7,269.4 L1446,269.4 Q1453.1,269.4 1453.1,262.3 L1453.1,144.4" fill="none" stroke="#333" stroke-width="1.1"/>
<g transform="translate(1283.20,269.50) scale(0.9958)"><path d="M-34.85,2.27 Q-36.15,0.00 -34.85,-2.27 L-19.37,-29.27 Q-18.08,-31.53 -15.46,-31.53 L15.46,-31.53 Q18.08,-31.53 19.37,-29.27 L34.85,-2.27 Q36.15,0.00 34.85,2.27 L19.37,29.27 Q18.08,31.53 15.46,31.53 L-15.46,31.53 Q-18.08,31.53 -19.37,29.27 Z" fill="#4285f4"/><path d="M0.01,-16.91 L0.01,-16.91 L0.00,-16.91 L0.00,-16.91 L0.00,-16.91 L0.00,-16.91 L0.00,-16.91 L0.00,-16.91 L-0.00,-16.91 L-0.00,-16.91 L-0.00,-16.91 L-0.00,-16.91 L-0.00,-16.91 L-0.01,-16.91 L-0.01,-16.91 L-0.01,-16.91 L-8.61,-8.31 L-8.61,-8.31 L-8.61,-8.31 L-8.61,-8.30 L-8.61,-8.30 L-8.61,-8.30 L-8.61,-8.30 L-8.61,-8.30 L-8.61,-8.30 L-8.61,-8.30 L-8.61,-8.30 L-8.61,-8.30 L-8.61,-8.30 L-8.61,-8.30 L-8.61,-8.29 L-8.61,-8.29 L-8.61,-8.29 L-3.86,-3.55 L-3.86,-3.40 L-3.86,-3.40 L-3.86,-3.40 L-3.86,-3.40 L-3.86,-3.40 L-3.86,-3.40 L-3.86,-3.39 L-3.86,-3.39 L-3.86,-3.39 L2.93,3.39 L-0.10,3.39 L-3.49,-0.01 L-3.49,-0.01 L-12.04,-8.41 L-12.04,-8.41 L-12.04,-8.41 L-12.04,-8.41 L-12.04,-8.41 L-12.04,-8.41 L-12.04,-8.41 L-12.04,-8.41 L-12.04,-8.41 L-12.04,-8.41 L-12.05,-8.41 L-12.05,-8.41 L-12.05,-8.41 L-12.05,-8.41 L-12.05,-8.41 L-12.05,-8.41 L-12.05,-8.41 L-12.05,-8.41 L-12.05,-8.41 L-12.05,-8.41 L-12.05,-8.41 L-12.05,-8.41 L-12.05,-8.41 L-12.05,-8.41 L-12.05,-8.41 L-12.05,-8.41 L-12.05,-8.41 L-12.05,-8.41 L-12.05,-8.41 L-12.05,-8.41 L-12.05,-8.41 L-12.05,-8.41 L-12.05,-8.41 L-12.05,-8.41 L-12.05,-8.41 L-12.05,-8.41 L-12.05,-8.41 L-12.05,-8.41 L-12.05,-8.41 L-12.05,-8.41 L-12.05,-8.41 L-12.05,-8.41 L-12.05,-8.41 L-12.05,-8.41 L-12.05,-8.41 L-12.05,-8.41 L-12.05,-8.41 L-12.05,-8.41 L-12.05,-8.41 L-12.05,-8.41 L-12.05,-8.41 L-12.05,-8.41 L-12.05,-8.41 L-12.06,-8.41 L-12.06,-8.41 L-12.06,-8.41 L-12.06,-8.41 L-12.06,-8.41 L-12.06,-8.41 L-12.06,-8.41 L-12.06,-8.41 L-12.06,-8.41 L-12.06,-8.41 L-12.06,-8.41 L-12.06,-8.41 L-12.06,-8.41 L-12.06,-8.41 L-12.06,-8.41 L-12.06,-8.41 L-12.06,-8.41 L-12.06,-8.41 L-12.06,-8.41 L-12.06,-8.41 L-12.06,-8.41 L-12.06,-8.40 L-12.06,-8.40 L-12.06,-8.40 L-12.06,-8.40 L-12.06,-8.40 L-12.06,-8.40 L-12.06,-8.40 L-12.06,-8.40 L-12.06,-8.40 L-12.06,-8.40 L-12.06,-8.40 L-12.06,-8.40 L-12.06,-8.40 L-12.06,-8.40 L-12.06,-8.40 L-12.06,-8.40 L-12.06,-8.40 L-12.06,-8.40 L-12.06,-8.40 L-12.06,-8.40 L-12.06,-8.40 L-12.06,-4.21 L-17.35,-4.21 L-17.35,-4.21 L-17.35,-4.21 L-17.35,-4.21 L-17.35,-4.21 L-17.35,-4.21 L-17.36,-4.21 L-17.36,-4.21 L-17.36,-4.21 L-17.36,-4.21 L-17.36,-4.21 L-17.36,-4.20 L-17.36,-4.20 L-17.36,-4.20 L-17.36,-4.20 L-17.36,-4.20 L-17.36,-4.20 L-17.36,4.20 L-17.36,4.20 L-17.36,4.20 L-17.36,4.20 L-17.36,4.20 L-17.36,4.20 L-17.36,4.21 L-17.36,4.21 L-17.36,4.21 L9.97,31.53 L18.08,31.53 L30.84,9.27 L17.36,-4.21 L17.36,-4.21 L17.36,-4.21 L17.35,-4.21 L17.35,-4.21 L17.35,-4.21 L17.35,-4.21 L17.35,-4.21 L17.35,-4.21 L16.25,-4.21 L12.06,-8.41 L12.06,-8.41 L12.06,-8.41 L12.06,-8.41 L12.06,-8.41 L12.06,-8.41 L12.06,-8.41 L12.06,-8.41 L12.06,-8.41 L12.05,-8.41 L12.05,-8.41 L12.05,-8.41 L12.05,-8.41 L12.05,-8.41 L12.05,-8.41 L12.05,-8.41 L12.05,-8.41 L12.05,-8.41 L12.05,-8.41 L12.05,-8.41 L12.05,-8.41 L12.05,-8.41 L12.05,-8.41 L12.05,-8.41 L12.05,-8.41 L12.05,-8.41 L12.05,-8.41 L12.05,-8.41 L12.05,-8.41 L12.05,-8.41 L12.05,-8.41 L12.05,-8.41 L12.05,-8.41 L12.05,-8.41 L12.05,-8.41 L12.05,-8.41 L12.05,-8.41 L12.05,-8.41 L12.05,-8.41 L12.05,-8.41 L12.05,-8.41 L12.05,-8.41 L12.05,-8.41 L12.05,-8.41 L12.05,-8.41 L12.05,-8.41 L12.05,-8.41 L12.05,-8.41 L12.05,-8.41 L12.05,-8.41 L12.05,-8.41 L12.05,-8.41 L12.04,-8.41 L12.04,-8.41 L12.04,-8.41 L12.04,-8.41 L12.04,-8.41 L12.04,-8.41 L12.04,-8.41 L12.04,-8.41 L12.04,-8.41 L12.04,-8.41 L10.26,-6.65 L8.61,-8.31 L8.61,-8.31 L0.01,-16.91 L0.01,-16.91Z" fill="#3c7be3"/><path d="M-8.60,-8.30 L-3.85,-8.30 L-3.85,-3.40 L3.85,-3.40 L3.85,-8.30 L8.60,-8.30 L0.00,-16.90 L-8.60,-8.30Z M-12.05,4.20 L-12.05,8.40 L-3.50,0.00 L-12.05,-8.40 L-12.05,-4.20 L-17.35,-4.20 L-17.35,4.20 L-12.05,4.20Z M12.05,4.20 L17.35,4.20 L17.35,-4.20 L12.05,-4.20 L12.05,-8.40 L3.50,0.00 L12.05,8.40 L12.05,4.20Z M-3.85,8.30 L-8.60,8.30 L0.00,16.90 L8.60,8.30 L3.85,8.30 L3.85,3.40 L-3.85,3.40 L-3.85,8.30Z" fill="#fff" fill-rule="evenodd"/></g>
<text x="1283.5" y="312.7" font-size="11.2" text-anchor="middle" fill="#000" font-weight="normal" >transit-cr-us-central1-vpn</text>
<text x="1283.5" y="326" font-size="11.2" text-anchor="middle" fill="#000" font-weight="normal" >ASN 65001</text>
<g transform="translate(1283.25,371.20) scale(0.9944)"><path d="M-34.85,2.27 Q-36.15,0.00 -34.85,-2.27 L-19.38,-29.28 Q-18.08,-31.55 -15.46,-31.55 L15.46,-31.55 Q18.08,-31.55 19.38,-29.28 L34.85,-2.27 Q36.15,0.00 34.85,2.27 L19.38,29.28 Q18.08,31.55 15.46,31.55 L-15.46,31.55 Q-18.08,31.55 -19.38,29.28 Z" fill="#4285f4"/><path d="M0.27,-4.10 L0.27,-4.10 L0.27,-4.10 L0.00,-4.11 L-0.00,-4.11 L-0.00,-4.11 L-0.27,-4.10 L-0.27,-4.10 L-0.27,-4.10 L-0.54,-4.07 L-0.54,-4.07 L-0.54,-4.07 L-0.80,-4.03 L-0.80,-4.03 L-0.80,-4.03 L-1.06,-3.97 L-1.06,-3.97 L-1.06,-3.97 L-1.32,-3.89 L-1.32,-3.89 L-1.32,-3.89 L-1.57,-3.80 L-1.57,-3.80 L-1.57,-3.80 L-1.82,-3.69 L-1.82,-3.69 L-1.82,-3.69 L-2.05,-3.56 L-2.05,-3.56 L-2.06,-3.56 L-2.28,-3.42 L-2.28,-3.42 L-2.28,-3.42 L-2.50,-3.26 L-2.50,-3.26 L-2.50,-3.26 L-2.71,-3.09 L-2.71,-3.09 L-2.71,-3.09 L-2.91,-2.91 L-2.91,-2.91 L-2.91,-2.91 L-3.09,-2.71 L-3.09,-2.71 L-3.09,-2.71 L-3.26,-2.50 L-3.26,-2.50 L-3.26,-2.50 L-3.42,-2.28 L-3.42,-2.28 L-3.42,-2.28 L-3.56,-2.06 L-3.56,-2.05 L-3.56,-2.05 L-3.69,-1.82 L-3.69,-1.82 L-3.69,-1.82 L-3.80,-1.57 L-3.80,-1.57 L-3.80,-1.57 L-3.89,-1.32 L-3.89,-1.32 L-3.89,-1.32 L-3.93,-1.21 L-7.60,-1.21 L-10.99,-4.61 L-10.99,-4.61 L-10.99,-4.61 L-11.00,-4.61 L-11.00,-4.61 L-11.00,-4.61 L-11.00,-4.61 L-11.00,-4.61 L-11.00,-4.61 L-20.20,-4.61 L-20.20,-4.61 L-20.20,-4.61 L-20.20,-4.61 L-20.20,-4.61 L-20.20,-4.61 L-20.21,-4.61 L-20.21,-4.61 L-20.21,-4.61 L-20.21,-4.61 L-20.21,-4.61 L-20.21,-4.60 L-20.21,-4.60 L-20.21,-4.60 L-20.21,-4.60 L-20.21,-4.60 L-20.21,-4.60 L-20.21,4.60 L-20.21,4.60 L-20.21,4.60 L-20.21,4.60 L-20.21,4.60 L-20.21,4.60 L-20.21,4.61 L-20.21,4.61 L-20.21,4.61 L6.74,31.55 L18.08,31.55 L36.15,0.00 L35.94,-0.38 L16.31,-20.01 L16.31,-20.01 L16.31,-20.01 L16.30,-20.01 L16.30,-20.01 L16.30,-20.01 L16.30,-20.01 L16.30,-20.01 L16.30,-20.01 L6.50,-20.01 L6.50,-20.01 L6.50,-20.01 L6.50,-20.01 L6.50,-20.01 L6.50,-20.01 L6.49,-20.01 L6.49,-20.01 L6.49,-20.01 L6.49,-20.01 L6.49,-20.01 L6.49,-20.00 L6.49,-20.00 L6.49,-20.00 L6.49,-20.00 L6.49,-20.00 L6.49,-20.00 L6.49,-10.80 L6.49,-10.80 L6.49,-10.80 L6.49,-10.80 L6.49,-10.80 L6.49,-10.80 L6.49,-10.79 L6.49,-10.79 L6.49,-10.79 L10.09,-7.20 L10.09,-1.21 L4.60,-1.21 L2.91,-2.91 L2.91,-2.91 L2.71,-3.09 L2.71,-3.09 L2.71,-3.09 L2.50,-3.26 L2.50,-3.26 L2.50,-3.26 L2.28,-3.42 L2.28,-3.42 L2.28,-3.42 L2.06,-3.56 L2.05,-3.56 L2.05,-3.56 L1.82,-3.69 L1.82,-3.69 L1.82,-3.69 L1.57,-3.80 L1.57,-3.80 L1.57,-3.80 L1.32,-3.89 L1.32,-3.89 L1.32,-3.89 L1.06,-3.97 L1.06,-3.97 L1.06,-3.97 L0.80,-4.03 L0.80,-4.03 L0.80,-4.03 L0.54,-4.07 L0.54,-4.07 L0.54,-4.07 L0.27,-4.10Z" fill="#3c7be3"/><path d="M6.50,-10.80 L10.10,-10.80 L10.10,-1.20 L3.92,-1.20 L3.88,-1.32 L3.79,-1.57 L3.68,-1.81 L3.55,-2.05 L3.41,-2.28 L3.25,-2.50 L3.08,-2.70 L2.90,-2.90 L2.70,-3.08 L2.50,-3.25 L2.28,-3.41 L2.05,-3.55 L1.81,-3.68 L1.57,-3.79 L1.32,-3.88 L1.06,-3.96 L0.80,-4.02 L0.54,-4.06 L0.27,-4.09 L0.00,-4.10 L-0.27,-4.09 L-0.54,-4.06 L-0.80,-4.02 L-1.06,-3.96 L-1.32,-3.88 L-1.57,-3.79 L-1.81,-3.68 L-2.05,-3.55 L-2.28,-3.41 L-2.50,-3.25 L-2.70,-3.08 L-2.90,-2.90 L-3.08,-2.70 L-3.25,-2.50 L-3.41,-2.28 L-3.55,-2.05 L-3.68,-1.81 L-3.79,-1.57 L-3.88,-1.32 L-3.92,-1.20 L-11.00,-1.20 L-11.00,-4.60 L-20.20,-4.60 L-20.20,4.60 L-11.00,4.60 L-11.00,1.20 L-3.92,1.20 L-3.88,1.32 L-3.79,1.57 L-3.68,1.81 L-3.55,2.05 L-3.41,2.28 L-3.25,2.50 L-3.08,2.70 L-2.90,2.90 L-2.70,3.08 L-2.50,3.25 L-2.28,3.41 L-2.05,3.55 L-1.81,3.68 L-1.57,3.79 L-1.32,3.88 L-1.06,3.96 L-0.80,4.02 L-0.54,4.06 L-0.27,4.09 L0.00,4.10 L0.27,4.09 L0.54,4.06 L0.80,4.02 L1.06,3.96 L1.32,3.88 L1.57,3.79 L1.81,3.68 L2.05,3.55 L2.28,3.41 L2.50,3.25 L2.70,3.08 L2.90,2.90 L3.08,2.70 L3.25,2.50 L3.41,2.28 L3.55,2.05 L3.68,1.81 L3.79,1.57 L3.88,1.32 L3.92,1.20 L10.10,1.20 L10.10,10.80 L6.50,10.80 L6.50,20.00 L16.30,20.00 L16.30,10.80 L12.50,10.80 L12.50,-10.80 L16.30,-10.80 L16.30,-20.00 L6.50,-20.00 L6.50,-10.80Z" fill="#fff" fill-rule="evenodd"/><circle cx="0" cy="0" r="2.3" fill="#4285f4"/></g>
<text x="1283.1" y="413.6" font-size="11.2" text-anchor="middle" fill="#000" font-weight="normal" >transit-vpn-central1</text>
<ellipse cx="850.3" cy="213.3" rx="1.1" ry="0.6" fill="#3a9a88"/>
<ellipse cx="1452.6" cy="32.6" rx="0.8" ry="0.6" fill="#4a9a8a"/>
<path d="M387.5,411.5 Q620,376.5 800,376.5 L1033,375.5" fill="none" stroke="#b414f0" stroke-width="1.6"/>
<path d="M1043.3,375.4 L1032,379.1 L1032,371.7 Z" fill="#b414f0" stroke="#b414f0" stroke-width="0.6" stroke-linejoin="round"/>
</svg>
</body></html>
